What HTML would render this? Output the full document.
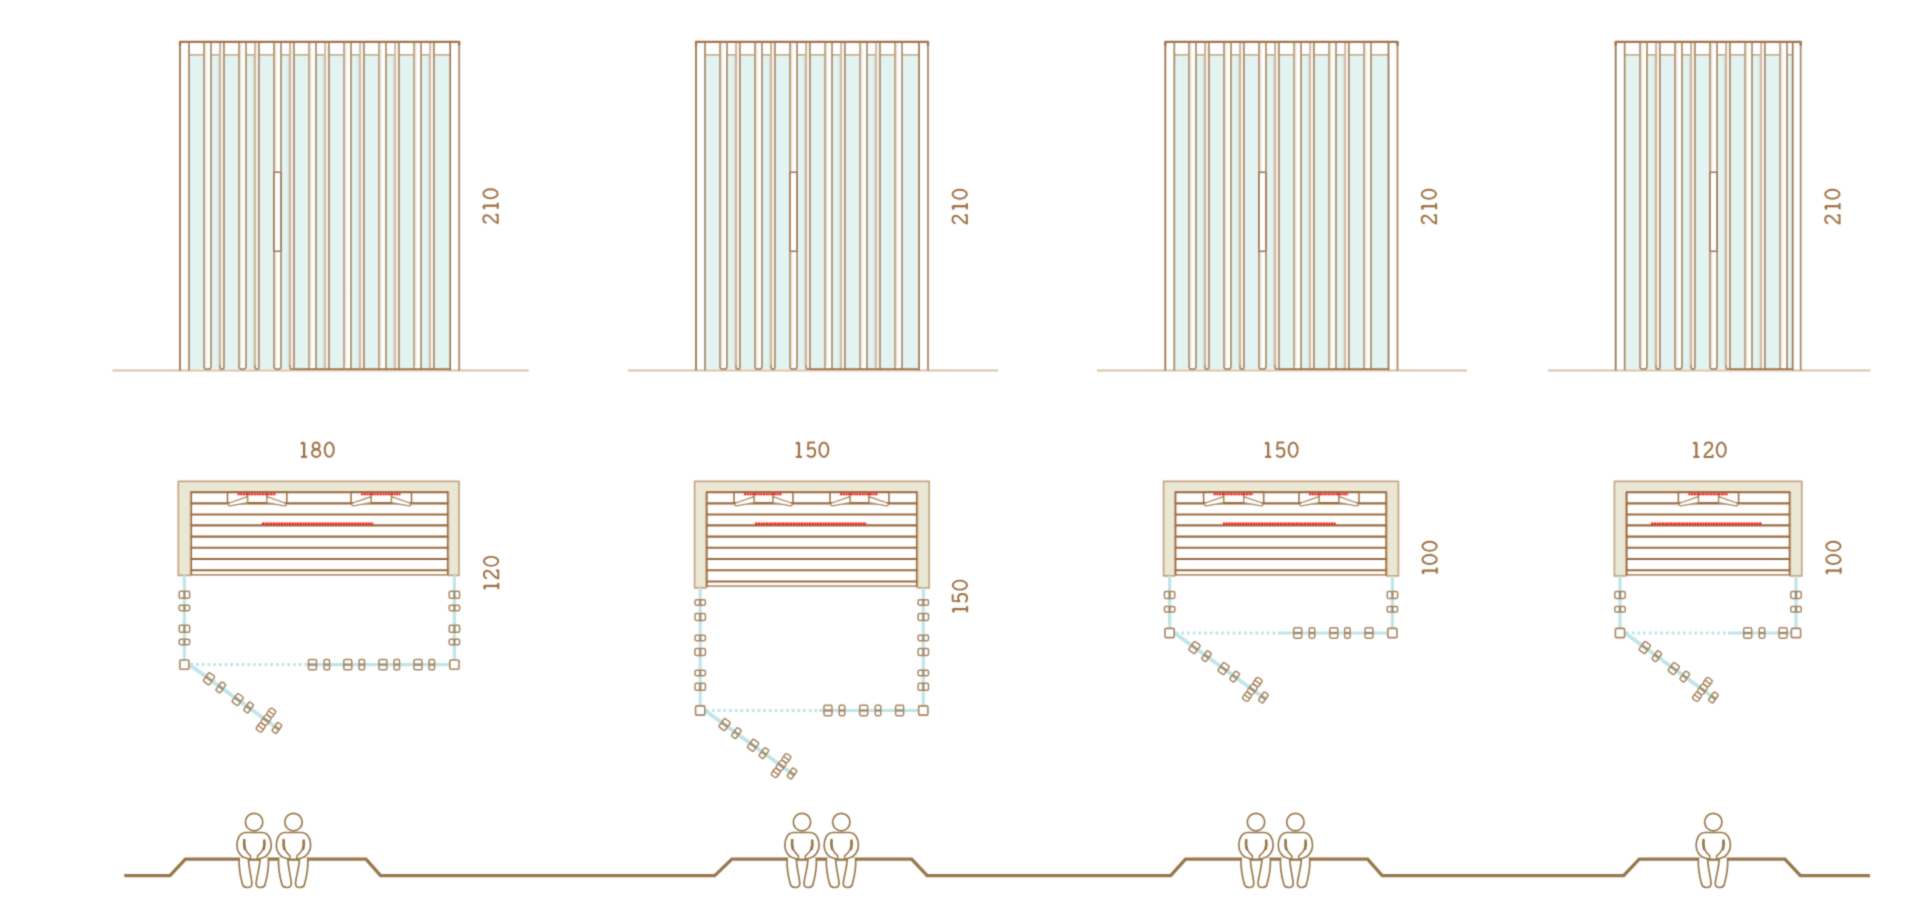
<!DOCTYPE html>
<html><head><meta charset="utf-8"><title>Sauna</title>
<style>html,body{margin:0;padding:0;background:#ffffff;overflow:hidden;width:1920px;height:918px}svg{display:block}</style>
</head><body>
<svg width="1920" height="918" viewBox="0 0 1920 918"><defs><linearGradient id="gL" x1="0" x2="1" y1="0" y2="0"><stop offset="0" stop-color="#c8ad8a" stop-opacity="0.45"/><stop offset="1" stop-color="#ffffff" stop-opacity="0"/></linearGradient><linearGradient id="gR" x1="0" x2="1" y1="0" y2="0"><stop offset="0" stop-color="#b9ad95" stop-opacity="0"/><stop offset="1" stop-color="#b9ad95" stop-opacity="0.35"/></linearGradient><filter id="bl" x="0" y="0" width="1920" height="918" filterUnits="userSpaceOnUse" color-interpolation-filters="sRGB"><feConvolveMatrix order="3" kernelMatrix="1 4 1 4 16 4 1 4 1" divisor="36" edgeMode="duplicate"/></filter></defs><rect width="1920" height="918" fill="#fff"/><g filter="url(#bl)"><rect x="189" y="54.8" width="261.2" height="314.4" fill="#e3f3f2" stroke="none" stroke-width="1.6" />
<line x1="189" y1="54.8" x2="450.2" y2="54.8" stroke="#c9b193" stroke-width="1.8" />
<rect x="204" y="41.8" width="7" height="327.4" fill="#ffffff" stroke="none" stroke-width="1.6" />
<rect x="204.8" y="42.8" width="3.6" height="323.4" fill="url(#gL)" stroke="none" stroke-width="1.6" />
<rect x="220" y="41.8" width="4" height="327.4" fill="#f6f1ec" stroke="none" stroke-width="1.6" />
<rect x="216.8" y="55.8" width="2.6" height="311.4" fill="url(#gR)" stroke="none" stroke-width="1.6" />
<rect x="239" y="41.8" width="7" height="327.4" fill="#ffffff" stroke="none" stroke-width="1.6" />
<rect x="239.8" y="42.8" width="3.6" height="323.4" fill="url(#gL)" stroke="none" stroke-width="1.6" />
<rect x="255" y="41.8" width="4" height="327.4" fill="#f6f1ec" stroke="none" stroke-width="1.6" />
<rect x="251.8" y="55.8" width="2.6" height="311.4" fill="url(#gR)" stroke="none" stroke-width="1.6" />
<rect x="274" y="41.8" width="7" height="327.4" fill="#ffffff" stroke="none" stroke-width="1.6" />
<rect x="274.8" y="42.8" width="3.6" height="323.4" fill="url(#gL)" stroke="none" stroke-width="1.6" />
<rect x="290" y="41.8" width="4" height="327.4" fill="#f6f1ec" stroke="none" stroke-width="1.6" />
<rect x="286.8" y="55.8" width="2.6" height="311.4" fill="url(#gR)" stroke="none" stroke-width="1.6" />
<rect x="309" y="41.8" width="7" height="327.4" fill="#ffffff" stroke="none" stroke-width="1.6" />
<rect x="309.8" y="42.8" width="3.6" height="323.4" fill="url(#gL)" stroke="none" stroke-width="1.6" />
<rect x="325" y="41.8" width="4" height="327.4" fill="#f6f1ec" stroke="none" stroke-width="1.6" />
<rect x="321.8" y="55.8" width="2.6" height="311.4" fill="url(#gR)" stroke="none" stroke-width="1.6" />
<rect x="344" y="41.8" width="7" height="327.4" fill="#ffffff" stroke="none" stroke-width="1.6" />
<rect x="344.8" y="42.8" width="3.6" height="323.4" fill="url(#gL)" stroke="none" stroke-width="1.6" />
<rect x="360" y="41.8" width="4" height="327.4" fill="#f6f1ec" stroke="none" stroke-width="1.6" />
<rect x="356.8" y="55.8" width="2.6" height="311.4" fill="url(#gR)" stroke="none" stroke-width="1.6" />
<rect x="379" y="41.8" width="7" height="327.4" fill="#ffffff" stroke="none" stroke-width="1.6" />
<rect x="379.8" y="42.8" width="3.6" height="323.4" fill="url(#gL)" stroke="none" stroke-width="1.6" />
<rect x="395" y="41.8" width="4" height="327.4" fill="#f6f1ec" stroke="none" stroke-width="1.6" />
<rect x="391.8" y="55.8" width="2.6" height="311.4" fill="url(#gR)" stroke="none" stroke-width="1.6" />
<rect x="414" y="41.8" width="7" height="327.4" fill="#ffffff" stroke="none" stroke-width="1.6" />
<rect x="414.8" y="42.8" width="3.6" height="323.4" fill="url(#gL)" stroke="none" stroke-width="1.6" />
<rect x="430" y="41.8" width="4" height="327.4" fill="#f6f1ec" stroke="none" stroke-width="1.6" />
<rect x="426.8" y="55.8" width="2.6" height="311.4" fill="url(#gR)" stroke="none" stroke-width="1.6" />
<rect x="180" y="41.8" width="9" height="328.8" fill="#ffffff" stroke="none" stroke-width="1.6" />
<rect x="450.2" y="41.8" width="9" height="328.8" fill="#ffffff" stroke="none" stroke-width="1.6" />
<line x1="112.5" y1="370.6" x2="528.7" y2="370.6" stroke="#d9c3aa" stroke-width="2.0" />
<path d="M204 41.8 V366.7 Q204 369.2 207.5 369.2 Q211 369.2 211 366.7 V41.8" fill="none" stroke="#ab8d69" stroke-width="1.7"/>
<line x1="204" y1="41.8" x2="204" y2="365.2" stroke="#bba283" stroke-width="1.8" />
<path d="M220 41.8 V367.2 Q220 369.2 222 369.2 Q224 369.2 224 367.2 V41.8" fill="none" stroke="#ab8d69" stroke-width="1.7"/>
<line x1="220" y1="41.8" x2="220" y2="365.2" stroke="#d0baa0" stroke-width="1.8" />
<path d="M239 41.8 V366.7 Q239 369.2 242.5 369.2 Q246 369.2 246 366.7 V41.8" fill="none" stroke="#ab8d69" stroke-width="1.7"/>
<line x1="239" y1="41.8" x2="239" y2="365.2" stroke="#bba283" stroke-width="1.8" />
<path d="M255 41.8 V367.2 Q255 369.2 257 369.2 Q259 369.2 259 367.2 V41.8" fill="none" stroke="#ab8d69" stroke-width="1.7"/>
<line x1="255" y1="41.8" x2="255" y2="365.2" stroke="#d0baa0" stroke-width="1.8" />
<path d="M274 41.8 V366.7 Q274 369.2 277.5 369.2 Q281 369.2 281 366.7 V41.8" fill="none" stroke="#ab8d69" stroke-width="1.7"/>
<line x1="274" y1="41.8" x2="274" y2="365.2" stroke="#bba283" stroke-width="1.8" />
<path d="M290 41.8 V367.2 Q290 369.2 292 369.2 Q294 369.2 294 367.2 V41.8" fill="none" stroke="#ab8d69" stroke-width="1.7"/>
<line x1="290" y1="41.8" x2="290" y2="365.2" stroke="#d0baa0" stroke-width="1.8" />
<line x1="309" y1="41.8" x2="309" y2="369.2" stroke="#bba283" stroke-width="1.8" />
<line x1="316" y1="41.8" x2="316" y2="369.2" stroke="#ab8d69" stroke-width="1.7" />
<line x1="325" y1="41.8" x2="325" y2="369.2" stroke="#d0baa0" stroke-width="1.8" />
<line x1="329" y1="41.8" x2="329" y2="369.2" stroke="#ab8d69" stroke-width="1.7" />
<line x1="344" y1="41.8" x2="344" y2="369.2" stroke="#bba283" stroke-width="1.8" />
<line x1="351" y1="41.8" x2="351" y2="369.2" stroke="#ab8d69" stroke-width="1.7" />
<line x1="360" y1="41.8" x2="360" y2="369.2" stroke="#d0baa0" stroke-width="1.8" />
<line x1="364" y1="41.8" x2="364" y2="369.2" stroke="#ab8d69" stroke-width="1.7" />
<line x1="379" y1="41.8" x2="379" y2="369.2" stroke="#bba283" stroke-width="1.8" />
<line x1="386" y1="41.8" x2="386" y2="369.2" stroke="#ab8d69" stroke-width="1.7" />
<line x1="395" y1="41.8" x2="395" y2="369.2" stroke="#d0baa0" stroke-width="1.8" />
<line x1="399" y1="41.8" x2="399" y2="369.2" stroke="#ab8d69" stroke-width="1.7" />
<line x1="414" y1="41.8" x2="414" y2="369.2" stroke="#bba283" stroke-width="1.8" />
<line x1="421" y1="41.8" x2="421" y2="369.2" stroke="#ab8d69" stroke-width="1.7" />
<line x1="430" y1="41.8" x2="430" y2="369.2" stroke="#d0baa0" stroke-width="1.8" />
<line x1="434" y1="41.8" x2="434" y2="369.2" stroke="#ab8d69" stroke-width="1.7" />
<line x1="180" y1="41.8" x2="180" y2="370.6" stroke="#9f7650" stroke-width="1.8" />
<line x1="189" y1="41.8" x2="189" y2="370.6" stroke="#ab8d69" stroke-width="1.8" />
<line x1="450.2" y1="41.8" x2="450.2" y2="370.6" stroke="#9f7650" stroke-width="1.7" />
<line x1="459.2" y1="41.8" x2="459.2" y2="370.6" stroke="#ab8d69" stroke-width="1.8" />
<line x1="294" y1="369.2" x2="450.2" y2="369.2" stroke="#9f7650" stroke-width="1.8" />
<path d="M180 45.8 V41.8 H459.2 V45.8" fill="none" stroke="#9f7650" stroke-width="2.3" stroke-linejoin="round"/>
<rect x="274" y="172.3" width="7" height="79" fill="#ffffff" stroke="#9f7650" stroke-width="1.6" rx="0.8"/>
<rect x="705" y="54.8" width="214" height="314.4" fill="#e3f3f2" stroke="none" stroke-width="1.6" />
<line x1="705" y1="54.8" x2="919" y2="54.8" stroke="#c9b193" stroke-width="1.8" />
<rect x="720" y="41.8" width="7" height="327.4" fill="#ffffff" stroke="none" stroke-width="1.6" />
<rect x="720.8" y="42.8" width="3.6" height="323.4" fill="url(#gL)" stroke="none" stroke-width="1.6" />
<rect x="736" y="41.8" width="4" height="327.4" fill="#f6f1ec" stroke="none" stroke-width="1.6" />
<rect x="732.8" y="55.8" width="2.6" height="311.4" fill="url(#gR)" stroke="none" stroke-width="1.6" />
<rect x="755" y="41.8" width="7" height="327.4" fill="#ffffff" stroke="none" stroke-width="1.6" />
<rect x="755.8" y="42.8" width="3.6" height="323.4" fill="url(#gL)" stroke="none" stroke-width="1.6" />
<rect x="771" y="41.8" width="4" height="327.4" fill="#f6f1ec" stroke="none" stroke-width="1.6" />
<rect x="767.8" y="55.8" width="2.6" height="311.4" fill="url(#gR)" stroke="none" stroke-width="1.6" />
<rect x="790" y="41.8" width="7" height="327.4" fill="#ffffff" stroke="none" stroke-width="1.6" />
<rect x="790.8" y="42.8" width="3.6" height="323.4" fill="url(#gL)" stroke="none" stroke-width="1.6" />
<rect x="806" y="41.8" width="4" height="327.4" fill="#f6f1ec" stroke="none" stroke-width="1.6" />
<rect x="802.8" y="55.8" width="2.6" height="311.4" fill="url(#gR)" stroke="none" stroke-width="1.6" />
<rect x="825" y="41.8" width="7" height="327.4" fill="#ffffff" stroke="none" stroke-width="1.6" />
<rect x="825.8" y="42.8" width="3.6" height="323.4" fill="url(#gL)" stroke="none" stroke-width="1.6" />
<rect x="841" y="41.8" width="4" height="327.4" fill="#f6f1ec" stroke="none" stroke-width="1.6" />
<rect x="837.8" y="55.8" width="2.6" height="311.4" fill="url(#gR)" stroke="none" stroke-width="1.6" />
<rect x="860" y="41.8" width="7" height="327.4" fill="#ffffff" stroke="none" stroke-width="1.6" />
<rect x="860.8" y="42.8" width="3.6" height="323.4" fill="url(#gL)" stroke="none" stroke-width="1.6" />
<rect x="876" y="41.8" width="4" height="327.4" fill="#f6f1ec" stroke="none" stroke-width="1.6" />
<rect x="872.8" y="55.8" width="2.6" height="311.4" fill="url(#gR)" stroke="none" stroke-width="1.6" />
<rect x="895" y="41.8" width="7" height="327.4" fill="#ffffff" stroke="none" stroke-width="1.6" />
<rect x="895.8" y="42.8" width="3.6" height="323.4" fill="url(#gL)" stroke="none" stroke-width="1.6" />
<rect x="696" y="41.8" width="9" height="328.8" fill="#ffffff" stroke="none" stroke-width="1.6" />
<rect x="919" y="41.8" width="9" height="328.8" fill="#ffffff" stroke="none" stroke-width="1.6" />
<line x1="628" y1="370.6" x2="998" y2="370.6" stroke="#d9c3aa" stroke-width="2.0" />
<path d="M720 41.8 V366.7 Q720 369.2 723.5 369.2 Q727 369.2 727 366.7 V41.8" fill="none" stroke="#ab8d69" stroke-width="1.7"/>
<line x1="720" y1="41.8" x2="720" y2="365.2" stroke="#bba283" stroke-width="1.8" />
<path d="M736 41.8 V367.2 Q736 369.2 738 369.2 Q740 369.2 740 367.2 V41.8" fill="none" stroke="#ab8d69" stroke-width="1.7"/>
<line x1="736" y1="41.8" x2="736" y2="365.2" stroke="#d0baa0" stroke-width="1.8" />
<path d="M755 41.8 V366.7 Q755 369.2 758.5 369.2 Q762 369.2 762 366.7 V41.8" fill="none" stroke="#ab8d69" stroke-width="1.7"/>
<line x1="755" y1="41.8" x2="755" y2="365.2" stroke="#bba283" stroke-width="1.8" />
<path d="M771 41.8 V367.2 Q771 369.2 773 369.2 Q775 369.2 775 367.2 V41.8" fill="none" stroke="#ab8d69" stroke-width="1.7"/>
<line x1="771" y1="41.8" x2="771" y2="365.2" stroke="#d0baa0" stroke-width="1.8" />
<path d="M790 41.8 V366.7 Q790 369.2 793.5 369.2 Q797 369.2 797 366.7 V41.8" fill="none" stroke="#ab8d69" stroke-width="1.7"/>
<line x1="790" y1="41.8" x2="790" y2="365.2" stroke="#bba283" stroke-width="1.8" />
<path d="M806 41.8 V367.2 Q806 369.2 808 369.2 Q810 369.2 810 367.2 V41.8" fill="none" stroke="#ab8d69" stroke-width="1.7"/>
<line x1="806" y1="41.8" x2="806" y2="365.2" stroke="#d0baa0" stroke-width="1.8" />
<line x1="825" y1="41.8" x2="825" y2="369.2" stroke="#bba283" stroke-width="1.8" />
<line x1="832" y1="41.8" x2="832" y2="369.2" stroke="#ab8d69" stroke-width="1.7" />
<line x1="841" y1="41.8" x2="841" y2="369.2" stroke="#d0baa0" stroke-width="1.8" />
<line x1="845" y1="41.8" x2="845" y2="369.2" stroke="#ab8d69" stroke-width="1.7" />
<line x1="860" y1="41.8" x2="860" y2="369.2" stroke="#bba283" stroke-width="1.8" />
<line x1="867" y1="41.8" x2="867" y2="369.2" stroke="#ab8d69" stroke-width="1.7" />
<line x1="876" y1="41.8" x2="876" y2="369.2" stroke="#d0baa0" stroke-width="1.8" />
<line x1="880" y1="41.8" x2="880" y2="369.2" stroke="#ab8d69" stroke-width="1.7" />
<line x1="895" y1="41.8" x2="895" y2="369.2" stroke="#bba283" stroke-width="1.8" />
<line x1="902" y1="41.8" x2="902" y2="369.2" stroke="#ab8d69" stroke-width="1.7" />
<line x1="696" y1="41.8" x2="696" y2="370.6" stroke="#9f7650" stroke-width="1.8" />
<line x1="705" y1="41.8" x2="705" y2="370.6" stroke="#ab8d69" stroke-width="1.8" />
<line x1="919" y1="41.8" x2="919" y2="370.6" stroke="#9f7650" stroke-width="1.7" />
<line x1="928" y1="41.8" x2="928" y2="370.6" stroke="#ab8d69" stroke-width="1.8" />
<line x1="809.5" y1="369.2" x2="919" y2="369.2" stroke="#9f7650" stroke-width="1.8" />
<path d="M696 45.8 V41.8 H928 V45.8" fill="none" stroke="#9f7650" stroke-width="2.3" stroke-linejoin="round"/>
<rect x="790" y="172.3" width="7" height="79" fill="#ffffff" stroke="#9f7650" stroke-width="1.6" rx="0.8"/>
<rect x="1174.3" y="54.8" width="214.20000000000005" height="314.4" fill="#e3f3f2" stroke="none" stroke-width="1.6" />
<line x1="1174.3" y1="54.8" x2="1388.5" y2="54.8" stroke="#c9b193" stroke-width="1.8" />
<rect x="1189" y="41.8" width="7" height="327.4" fill="#ffffff" stroke="none" stroke-width="1.6" />
<rect x="1189.8" y="42.8" width="3.6" height="323.4" fill="url(#gL)" stroke="none" stroke-width="1.6" />
<rect x="1205" y="41.8" width="4" height="327.4" fill="#f6f1ec" stroke="none" stroke-width="1.6" />
<rect x="1201.8" y="55.8" width="2.6" height="311.4" fill="url(#gR)" stroke="none" stroke-width="1.6" />
<rect x="1224" y="41.8" width="7" height="327.4" fill="#ffffff" stroke="none" stroke-width="1.6" />
<rect x="1224.8" y="42.8" width="3.6" height="323.4" fill="url(#gL)" stroke="none" stroke-width="1.6" />
<rect x="1240" y="41.8" width="4" height="327.4" fill="#f6f1ec" stroke="none" stroke-width="1.6" />
<rect x="1236.8" y="55.8" width="2.6" height="311.4" fill="url(#gR)" stroke="none" stroke-width="1.6" />
<rect x="1259" y="41.8" width="7" height="327.4" fill="#ffffff" stroke="none" stroke-width="1.6" />
<rect x="1259.8" y="42.8" width="3.6" height="323.4" fill="url(#gL)" stroke="none" stroke-width="1.6" />
<rect x="1275" y="41.8" width="4" height="327.4" fill="#f6f1ec" stroke="none" stroke-width="1.6" />
<rect x="1271.8" y="55.8" width="2.6" height="311.4" fill="url(#gR)" stroke="none" stroke-width="1.6" />
<rect x="1294" y="41.8" width="7" height="327.4" fill="#ffffff" stroke="none" stroke-width="1.6" />
<rect x="1294.8" y="42.8" width="3.6" height="323.4" fill="url(#gL)" stroke="none" stroke-width="1.6" />
<rect x="1310" y="41.8" width="4" height="327.4" fill="#f6f1ec" stroke="none" stroke-width="1.6" />
<rect x="1306.8" y="55.8" width="2.6" height="311.4" fill="url(#gR)" stroke="none" stroke-width="1.6" />
<rect x="1329" y="41.8" width="7" height="327.4" fill="#ffffff" stroke="none" stroke-width="1.6" />
<rect x="1329.8" y="42.8" width="3.6" height="323.4" fill="url(#gL)" stroke="none" stroke-width="1.6" />
<rect x="1345" y="41.8" width="4" height="327.4" fill="#f6f1ec" stroke="none" stroke-width="1.6" />
<rect x="1341.8" y="55.8" width="2.6" height="311.4" fill="url(#gR)" stroke="none" stroke-width="1.6" />
<rect x="1364" y="41.8" width="7" height="327.4" fill="#ffffff" stroke="none" stroke-width="1.6" />
<rect x="1364.8" y="42.8" width="3.6" height="323.4" fill="url(#gL)" stroke="none" stroke-width="1.6" />
<rect x="1165.3" y="41.8" width="9" height="328.8" fill="#ffffff" stroke="none" stroke-width="1.6" />
<rect x="1388.5" y="41.8" width="9" height="328.8" fill="#ffffff" stroke="none" stroke-width="1.6" />
<line x1="1097" y1="370.6" x2="1467" y2="370.6" stroke="#d9c3aa" stroke-width="2.0" />
<path d="M1189 41.8 V366.7 Q1189 369.2 1192.5 369.2 Q1196 369.2 1196 366.7 V41.8" fill="none" stroke="#ab8d69" stroke-width="1.7"/>
<line x1="1189" y1="41.8" x2="1189" y2="365.2" stroke="#bba283" stroke-width="1.8" />
<path d="M1205 41.8 V367.2 Q1205 369.2 1207 369.2 Q1209 369.2 1209 367.2 V41.8" fill="none" stroke="#ab8d69" stroke-width="1.7"/>
<line x1="1205" y1="41.8" x2="1205" y2="365.2" stroke="#d0baa0" stroke-width="1.8" />
<path d="M1224 41.8 V366.7 Q1224 369.2 1227.5 369.2 Q1231 369.2 1231 366.7 V41.8" fill="none" stroke="#ab8d69" stroke-width="1.7"/>
<line x1="1224" y1="41.8" x2="1224" y2="365.2" stroke="#bba283" stroke-width="1.8" />
<path d="M1240 41.8 V367.2 Q1240 369.2 1242 369.2 Q1244 369.2 1244 367.2 V41.8" fill="none" stroke="#ab8d69" stroke-width="1.7"/>
<line x1="1240" y1="41.8" x2="1240" y2="365.2" stroke="#d0baa0" stroke-width="1.8" />
<path d="M1259 41.8 V366.7 Q1259 369.2 1262.5 369.2 Q1266 369.2 1266 366.7 V41.8" fill="none" stroke="#ab8d69" stroke-width="1.7"/>
<line x1="1259" y1="41.8" x2="1259" y2="365.2" stroke="#bba283" stroke-width="1.8" />
<path d="M1275 41.8 V367.2 Q1275 369.2 1277 369.2 Q1279 369.2 1279 367.2 V41.8" fill="none" stroke="#ab8d69" stroke-width="1.7"/>
<line x1="1275" y1="41.8" x2="1275" y2="365.2" stroke="#d0baa0" stroke-width="1.8" />
<line x1="1294" y1="41.8" x2="1294" y2="369.2" stroke="#bba283" stroke-width="1.8" />
<line x1="1301" y1="41.8" x2="1301" y2="369.2" stroke="#ab8d69" stroke-width="1.7" />
<line x1="1310" y1="41.8" x2="1310" y2="369.2" stroke="#d0baa0" stroke-width="1.8" />
<line x1="1314" y1="41.8" x2="1314" y2="369.2" stroke="#ab8d69" stroke-width="1.7" />
<line x1="1329" y1="41.8" x2="1329" y2="369.2" stroke="#bba283" stroke-width="1.8" />
<line x1="1336" y1="41.8" x2="1336" y2="369.2" stroke="#ab8d69" stroke-width="1.7" />
<line x1="1345" y1="41.8" x2="1345" y2="369.2" stroke="#d0baa0" stroke-width="1.8" />
<line x1="1349" y1="41.8" x2="1349" y2="369.2" stroke="#ab8d69" stroke-width="1.7" />
<line x1="1364" y1="41.8" x2="1364" y2="369.2" stroke="#bba283" stroke-width="1.8" />
<line x1="1371" y1="41.8" x2="1371" y2="369.2" stroke="#ab8d69" stroke-width="1.7" />
<line x1="1165.3" y1="41.8" x2="1165.3" y2="370.6" stroke="#9f7650" stroke-width="1.8" />
<line x1="1174.3" y1="41.8" x2="1174.3" y2="370.6" stroke="#ab8d69" stroke-width="1.8" />
<line x1="1388.5" y1="41.8" x2="1388.5" y2="370.6" stroke="#9f7650" stroke-width="1.7" />
<line x1="1397.5" y1="41.8" x2="1397.5" y2="370.6" stroke="#ab8d69" stroke-width="1.8" />
<line x1="1279" y1="369.2" x2="1388.5" y2="369.2" stroke="#9f7650" stroke-width="1.8" />
<path d="M1165.3 45.8 V41.8 H1397.5 V45.8" fill="none" stroke="#9f7650" stroke-width="2.3" stroke-linejoin="round"/>
<rect x="1259" y="172.3" width="7" height="79" fill="#ffffff" stroke="#9f7650" stroke-width="1.6" rx="0.8"/>
<rect x="1624.7" y="54.8" width="168.0" height="314.4" fill="#e3f3f2" stroke="none" stroke-width="1.6" />
<line x1="1624.7" y1="54.8" x2="1792.7" y2="54.8" stroke="#c9b193" stroke-width="1.8" />
<rect x="1640" y="41.8" width="7" height="327.4" fill="#ffffff" stroke="none" stroke-width="1.6" />
<rect x="1640.8" y="42.8" width="3.6" height="323.4" fill="url(#gL)" stroke="none" stroke-width="1.6" />
<rect x="1656" y="41.8" width="4" height="327.4" fill="#f6f1ec" stroke="none" stroke-width="1.6" />
<rect x="1652.8" y="55.8" width="2.6" height="311.4" fill="url(#gR)" stroke="none" stroke-width="1.6" />
<rect x="1675" y="41.8" width="7" height="327.4" fill="#ffffff" stroke="none" stroke-width="1.6" />
<rect x="1675.8" y="42.8" width="3.6" height="323.4" fill="url(#gL)" stroke="none" stroke-width="1.6" />
<rect x="1691" y="41.8" width="4" height="327.4" fill="#f6f1ec" stroke="none" stroke-width="1.6" />
<rect x="1687.8" y="55.8" width="2.6" height="311.4" fill="url(#gR)" stroke="none" stroke-width="1.6" />
<rect x="1710" y="41.8" width="7" height="327.4" fill="#ffffff" stroke="none" stroke-width="1.6" />
<rect x="1710.8" y="42.8" width="3.6" height="323.4" fill="url(#gL)" stroke="none" stroke-width="1.6" />
<rect x="1726" y="41.8" width="4" height="327.4" fill="#f6f1ec" stroke="none" stroke-width="1.6" />
<rect x="1722.8" y="55.8" width="2.6" height="311.4" fill="url(#gR)" stroke="none" stroke-width="1.6" />
<rect x="1745" y="41.8" width="7" height="327.4" fill="#ffffff" stroke="none" stroke-width="1.6" />
<rect x="1745.8" y="42.8" width="3.6" height="323.4" fill="url(#gL)" stroke="none" stroke-width="1.6" />
<rect x="1761" y="41.8" width="4" height="327.4" fill="#f6f1ec" stroke="none" stroke-width="1.6" />
<rect x="1757.8" y="55.8" width="2.6" height="311.4" fill="url(#gR)" stroke="none" stroke-width="1.6" />
<rect x="1780" y="41.8" width="7" height="327.4" fill="#ffffff" stroke="none" stroke-width="1.6" />
<rect x="1780.8" y="42.8" width="3.6" height="323.4" fill="url(#gL)" stroke="none" stroke-width="1.6" />
<rect x="1615.7" y="41.8" width="9" height="328.8" fill="#ffffff" stroke="none" stroke-width="1.6" />
<rect x="1792.7" y="41.8" width="8" height="328.8" fill="#ffffff" stroke="none" stroke-width="1.6" />
<line x1="1548" y1="370.6" x2="1870.5" y2="370.6" stroke="#d9c3aa" stroke-width="2.0" />
<path d="M1640 41.8 V366.7 Q1640 369.2 1643.5 369.2 Q1647 369.2 1647 366.7 V41.8" fill="none" stroke="#ab8d69" stroke-width="1.7"/>
<line x1="1640" y1="41.8" x2="1640" y2="365.2" stroke="#bba283" stroke-width="1.8" />
<path d="M1656 41.8 V367.2 Q1656 369.2 1658 369.2 Q1660 369.2 1660 367.2 V41.8" fill="none" stroke="#ab8d69" stroke-width="1.7"/>
<line x1="1656" y1="41.8" x2="1656" y2="365.2" stroke="#d0baa0" stroke-width="1.8" />
<path d="M1675 41.8 V366.7 Q1675 369.2 1678.5 369.2 Q1682 369.2 1682 366.7 V41.8" fill="none" stroke="#ab8d69" stroke-width="1.7"/>
<line x1="1675" y1="41.8" x2="1675" y2="365.2" stroke="#bba283" stroke-width="1.8" />
<path d="M1691 41.8 V367.2 Q1691 369.2 1693 369.2 Q1695 369.2 1695 367.2 V41.8" fill="none" stroke="#ab8d69" stroke-width="1.7"/>
<line x1="1691" y1="41.8" x2="1691" y2="365.2" stroke="#d0baa0" stroke-width="1.8" />
<path d="M1710 41.8 V366.7 Q1710 369.2 1713.5 369.2 Q1717 369.2 1717 366.7 V41.8" fill="none" stroke="#ab8d69" stroke-width="1.7"/>
<line x1="1710" y1="41.8" x2="1710" y2="365.2" stroke="#bba283" stroke-width="1.8" />
<path d="M1726 41.8 V367.2 Q1726 369.2 1728 369.2 Q1730 369.2 1730 367.2 V41.8" fill="none" stroke="#ab8d69" stroke-width="1.7"/>
<line x1="1726" y1="41.8" x2="1726" y2="365.2" stroke="#d0baa0" stroke-width="1.8" />
<line x1="1745" y1="41.8" x2="1745" y2="369.2" stroke="#bba283" stroke-width="1.8" />
<line x1="1752" y1="41.8" x2="1752" y2="369.2" stroke="#ab8d69" stroke-width="1.7" />
<line x1="1761" y1="41.8" x2="1761" y2="369.2" stroke="#d0baa0" stroke-width="1.8" />
<line x1="1765" y1="41.8" x2="1765" y2="369.2" stroke="#ab8d69" stroke-width="1.7" />
<line x1="1780" y1="41.8" x2="1780" y2="369.2" stroke="#bba283" stroke-width="1.8" />
<line x1="1787" y1="41.8" x2="1787" y2="369.2" stroke="#ab8d69" stroke-width="1.7" />
<line x1="1615.7" y1="41.8" x2="1615.7" y2="370.6" stroke="#9f7650" stroke-width="1.8" />
<line x1="1624.7" y1="41.8" x2="1624.7" y2="370.6" stroke="#ab8d69" stroke-width="1.8" />
<line x1="1792.7" y1="41.8" x2="1792.7" y2="370.6" stroke="#9f7650" stroke-width="1.7" />
<line x1="1800.7" y1="41.8" x2="1800.7" y2="370.6" stroke="#ab8d69" stroke-width="1.8" />
<line x1="1729.6" y1="369.2" x2="1792.7" y2="369.2" stroke="#9f7650" stroke-width="1.8" />
<path d="M1615.7 45.8 V41.8 H1800.7 V45.8" fill="none" stroke="#9f7650" stroke-width="2.3" stroke-linejoin="round"/>
<rect x="1710" y="172.3" width="7" height="79" fill="#ffffff" stroke="#9f7650" stroke-width="1.6" rx="0.8"/>
<path d="M178.3 481.3 H459.0 V575.4 H448.5 V492.3 H190.5 V575.4 H178.3 Z" fill="#ebe7d5" stroke="#c4a683" stroke-width="1.7" stroke-linejoin="round"/>
<rect x="190.5" y="492.3" width="258.0" height="83.09999999999997" fill="#ffffff" stroke="none" stroke-width="1.6" />
<line x1="190.5" y1="492.3" x2="448.5" y2="492.3" stroke="#9c6d40" stroke-width="2.1" />
<line x1="190.5" y1="503.4" x2="448.5" y2="503.4" stroke="#9c6d40" stroke-width="2.1" />
<line x1="190.5" y1="514.5" x2="448.5" y2="514.5" stroke="#9c6d40" stroke-width="2.1" />
<line x1="190.5" y1="525.4" x2="448.5" y2="525.4" stroke="#9c6d40" stroke-width="2.1" />
<line x1="190.5" y1="536.6" x2="448.5" y2="536.6" stroke="#9c6d40" stroke-width="2.1" />
<line x1="190.5" y1="547.7" x2="448.5" y2="547.7" stroke="#9c6d40" stroke-width="2.1" />
<line x1="190.5" y1="559.0" x2="448.5" y2="559.0" stroke="#9c6d40" stroke-width="2.1" />
<line x1="190.5" y1="570.2" x2="448.5" y2="570.2" stroke="#9c6d40" stroke-width="2.1" />
<line x1="190.5" y1="574.9" x2="448.5" y2="574.9" stroke="#b89574" stroke-width="1.6" />
<line x1="191.3" y1="492.3" x2="191.3" y2="574.9" stroke="#9c6d40" stroke-width="1.6" />
<line x1="447.7" y1="492.3" x2="447.7" y2="574.9" stroke="#9c6d40" stroke-width="1.6" />
<rect x="227.5" y="492.3" width="59.30000000000001" height="10.600000000000023" fill="#ffffff" stroke="none" stroke-width="1.6" />
<line x1="227.5" y1="492.3" x2="227.5" y2="502.90000000000003" stroke="#9c6d40" stroke-width="1.5" />
<line x1="286.8" y1="492.3" x2="286.8" y2="502.90000000000003" stroke="#9c6d40" stroke-width="1.5" />
<line x1="247.5" y1="492.3" x2="247.5" y2="501.90000000000003" stroke="#9c6d40" stroke-width="1.4" />
<line x1="266.8" y1="492.3" x2="266.8" y2="501.90000000000003" stroke="#9c6d40" stroke-width="1.4" />
<line x1="227.5" y1="492.3" x2="286.8" y2="492.3" stroke="#9c6d40" stroke-width="1.9" />
<line x1="227.5" y1="502.90000000000003" x2="286.8" y2="502.90000000000003" stroke="#9c6d40" stroke-width="1.9" />
<path d="M247.5 496.6 L229.3 503.00000000000006 Q226.9 505.70000000000005 230.1 505.8 L247.5 502.70000000000005 Z" fill="#ffffff" stroke="#ab8d69" stroke-width="1.3"/>
<path d="M266.8 496.6 L285.0 503.00000000000006 Q287.40000000000003 505.70000000000005 284.2 505.8 L266.8 502.70000000000005 Z" fill="#ffffff" stroke="#ab8d69" stroke-width="1.3"/>
<line x1="237.5" y1="494.3" x2="275.8" y2="494.3" stroke="#fa1414" stroke-width="2.1" stroke-dasharray="2.2 0.5"/>
<rect x="351" y="492.3" width="60.5" height="10.600000000000023" fill="#ffffff" stroke="none" stroke-width="1.6" />
<line x1="351" y1="492.3" x2="351" y2="502.90000000000003" stroke="#9c6d40" stroke-width="1.5" />
<line x1="411.5" y1="492.3" x2="411.5" y2="502.90000000000003" stroke="#9c6d40" stroke-width="1.5" />
<line x1="371" y1="492.3" x2="371" y2="501.90000000000003" stroke="#9c6d40" stroke-width="1.4" />
<line x1="391.5" y1="492.3" x2="391.5" y2="501.90000000000003" stroke="#9c6d40" stroke-width="1.4" />
<line x1="351" y1="492.3" x2="411.5" y2="492.3" stroke="#9c6d40" stroke-width="1.9" />
<line x1="351" y1="502.90000000000003" x2="411.5" y2="502.90000000000003" stroke="#9c6d40" stroke-width="1.9" />
<path d="M371 496.6 L352.8 503.00000000000006 Q350.4 505.70000000000005 353.6 505.8 L371 502.70000000000005 Z" fill="#ffffff" stroke="#ab8d69" stroke-width="1.3"/>
<path d="M391.5 496.6 L409.7 503.00000000000006 Q412.1 505.70000000000005 408.9 505.8 L391.5 502.70000000000005 Z" fill="#ffffff" stroke="#ab8d69" stroke-width="1.3"/>
<line x1="361" y1="494.3" x2="400.5" y2="494.3" stroke="#fa1414" stroke-width="2.1" stroke-dasharray="2.2 0.5"/>
<line x1="262" y1="523.7" x2="373.5" y2="523.7" stroke="#fa1414" stroke-width="2.3" stroke-dasharray="2.2 0.5"/>
<line x1="184.4" y1="575.4" x2="184.4" y2="664.6" stroke="#c0e5e9" stroke-width="3.2" />
<line x1="454.4" y1="575.4" x2="454.4" y2="664.6" stroke="#c0e5e9" stroke-width="3.2" />
<line x1="190.4" y1="664.6" x2="306" y2="664.6" stroke="#c0e5e9" stroke-width="3.0" stroke-dasharray="2.8 2.9"/>
<line x1="306" y1="664.6" x2="454.4" y2="664.6" stroke="#c0e5e9" stroke-width="3.2" />
<line x1="189.4" y1="664.6" x2="279" y2="729.5" stroke="#c0e5e9" stroke-width="3.8" />
<rect x="179.20000000000002" y="591.3" width="10.4" height="7" fill="none" stroke="#a98662" stroke-width="1.5" rx="1.4"/>
<line x1="184.4" y1="591.3" x2="184.4" y2="598.3" stroke="#a98662" stroke-width="2.0" />
<rect x="449.2" y="591.3" width="10.4" height="7" fill="none" stroke="#a98662" stroke-width="1.5" rx="1.4"/>
<line x1="454.4" y1="591.3" x2="454.4" y2="598.3" stroke="#a98662" stroke-width="2.0" />
<rect x="179.20000000000002" y="605.15" width="10.4" height="5.5" fill="none" stroke="#a98662" stroke-width="1.5" rx="1.4"/>
<line x1="184.4" y1="605.15" x2="184.4" y2="610.65" stroke="#a98662" stroke-width="2.0" />
<rect x="449.2" y="605.15" width="10.4" height="5.5" fill="none" stroke="#a98662" stroke-width="1.5" rx="1.4"/>
<line x1="454.4" y1="605.15" x2="454.4" y2="610.65" stroke="#a98662" stroke-width="2.0" />
<rect x="179.20000000000002" y="625.3" width="10.4" height="7" fill="none" stroke="#a98662" stroke-width="1.5" rx="1.4"/>
<line x1="184.4" y1="625.3" x2="184.4" y2="632.3" stroke="#a98662" stroke-width="2.0" />
<rect x="449.2" y="625.3" width="10.4" height="7" fill="none" stroke="#a98662" stroke-width="1.5" rx="1.4"/>
<line x1="454.4" y1="625.3" x2="454.4" y2="632.3" stroke="#a98662" stroke-width="2.0" />
<rect x="179.20000000000002" y="639.15" width="10.4" height="5.5" fill="none" stroke="#a98662" stroke-width="1.5" rx="1.4"/>
<line x1="184.4" y1="639.15" x2="184.4" y2="644.65" stroke="#a98662" stroke-width="2.0" />
<rect x="449.2" y="639.15" width="10.4" height="5.5" fill="none" stroke="#a98662" stroke-width="1.5" rx="1.4"/>
<line x1="454.4" y1="639.15" x2="454.4" y2="644.65" stroke="#a98662" stroke-width="2.0" />
<rect x="308.5" y="659.4" width="8.0" height="10.4" fill="none" stroke="#a98662" stroke-width="1.5" rx="1.4"/>
<line x1="308.5" y1="664.6" x2="316.5" y2="664.6" stroke="#a98662" stroke-width="2.0" />
<rect x="324.05" y="659.4" width="5.5" height="10.4" fill="none" stroke="#a98662" stroke-width="1.5" rx="1.4"/>
<line x1="324.05" y1="664.6" x2="329.55" y2="664.6" stroke="#a98662" stroke-width="2.0" />
<rect x="343.8" y="659.4" width="8.0" height="10.4" fill="none" stroke="#a98662" stroke-width="1.5" rx="1.4"/>
<line x1="343.8" y1="664.6" x2="351.8" y2="664.6" stroke="#a98662" stroke-width="2.0" />
<rect x="359.05" y="659.4" width="5.5" height="10.4" fill="none" stroke="#a98662" stroke-width="1.5" rx="1.4"/>
<line x1="359.05" y1="664.6" x2="364.55" y2="664.6" stroke="#a98662" stroke-width="2.0" />
<rect x="378.9" y="659.4" width="8.0" height="10.4" fill="none" stroke="#a98662" stroke-width="1.5" rx="1.4"/>
<line x1="378.9" y1="664.6" x2="386.9" y2="664.6" stroke="#a98662" stroke-width="2.0" />
<rect x="394.05" y="659.4" width="5.5" height="10.4" fill="none" stroke="#a98662" stroke-width="1.5" rx="1.4"/>
<line x1="394.05" y1="664.6" x2="399.55" y2="664.6" stroke="#a98662" stroke-width="2.0" />
<rect x="414.0" y="659.4" width="8.0" height="10.4" fill="none" stroke="#a98662" stroke-width="1.5" rx="1.4"/>
<line x1="414.0" y1="664.6" x2="422.0" y2="664.6" stroke="#a98662" stroke-width="2.0" />
<rect x="429.05" y="659.4" width="5.5" height="10.4" fill="none" stroke="#a98662" stroke-width="1.5" rx="1.4"/>
<line x1="429.05" y1="664.6" x2="434.55" y2="664.6" stroke="#a98662" stroke-width="2.0" />
<g transform="translate(209.0 678.8) rotate(35.9)"><rect x="-3.75" y="-5.2" width="7.5" height="10.4" rx="1.4" fill="none" stroke="#a98662" stroke-width="1.5"/><line x1="-3.75" y1="0" x2="3.75" y2="0" stroke="#a98662" stroke-width="2.0"/></g>
<g transform="translate(220.8 687.4) rotate(35.9)"><rect x="-2.75" y="-5.2" width="5.5" height="10.4" rx="1.4" fill="none" stroke="#a98662" stroke-width="1.5"/><line x1="-2.75" y1="0" x2="2.75" y2="0" stroke="#a98662" stroke-width="2.0"/></g>
<g transform="translate(237.7 699.6) rotate(35.9)"><rect x="-3.75" y="-5.2" width="7.5" height="10.4" rx="1.4" fill="none" stroke="#a98662" stroke-width="1.5"/><line x1="-3.75" y1="0" x2="3.75" y2="0" stroke="#a98662" stroke-width="2.0"/></g>
<g transform="translate(248.6 707.5) rotate(35.9)"><rect x="-2.75" y="-5.2" width="5.5" height="10.4" rx="1.4" fill="none" stroke="#a98662" stroke-width="1.5"/><line x1="-2.75" y1="0" x2="2.75" y2="0" stroke="#a98662" stroke-width="2.0"/></g>
<g transform="translate(276.9 728.0) rotate(35.9)"><rect x="-2.75" y="-5.2" width="5.5" height="10.4" rx="1.4" fill="none" stroke="#a98662" stroke-width="1.5"/><line x1="-2.75" y1="0" x2="2.75" y2="0" stroke="#a98662" stroke-width="2.0"/></g>
<g transform="translate(266.0 720.1) rotate(35.9)" fill="none" stroke="#a98662" stroke-width="1.4"><rect x="-3.4" y="-13.2" width="6.8" height="8.4" rx="2.2"/><rect x="-3.4" y="4.8" width="6.8" height="8.4" rx="2.2"/><rect x="-3.6" y="-5.2" width="7.2" height="10.4" rx="3.2"/><line x1="-3.4" y1="-9" x2="3.4" y2="-9"/><line x1="-3.4" y1="9" x2="3.4" y2="9"/><line x1="-3.6" y1="0" x2="3.6" y2="0" stroke-width="2.2"/></g>
<rect x="179.8" y="660.0" width="9.2" height="9.2" fill="#ffffff" stroke="#a98662" stroke-width="1.6" rx="1.2"/>
<rect x="449.79999999999995" y="660.0" width="9.2" height="9.2" fill="#ffffff" stroke="#a98662" stroke-width="1.6" rx="1.2"/>
<path d="M694.6 481.3 H929.2 V587.8 H917.5 V492.3 H706.1 V587.8 H694.6 Z" fill="#ebe7d5" stroke="#c4a683" stroke-width="1.7" stroke-linejoin="round"/>
<rect x="706.1" y="492.3" width="211.39999999999998" height="95.49999999999994" fill="#ffffff" stroke="none" stroke-width="1.6" />
<line x1="706.1" y1="492.3" x2="917.5" y2="492.3" stroke="#9c6d40" stroke-width="2.1" />
<line x1="706.1" y1="503.4" x2="917.5" y2="503.4" stroke="#9c6d40" stroke-width="2.1" />
<line x1="706.1" y1="514.5" x2="917.5" y2="514.5" stroke="#9c6d40" stroke-width="2.1" />
<line x1="706.1" y1="525.4" x2="917.5" y2="525.4" stroke="#9c6d40" stroke-width="2.1" />
<line x1="706.1" y1="536.6" x2="917.5" y2="536.6" stroke="#9c6d40" stroke-width="2.1" />
<line x1="706.1" y1="547.7" x2="917.5" y2="547.7" stroke="#9c6d40" stroke-width="2.1" />
<line x1="706.1" y1="559.0" x2="917.5" y2="559.0" stroke="#9c6d40" stroke-width="2.1" />
<line x1="706.1" y1="570.2" x2="917.5" y2="570.2" stroke="#9c6d40" stroke-width="2.1" />
<line x1="706.1" y1="581.5" x2="917.5" y2="581.5" stroke="#9c6d40" stroke-width="2.1" />
<line x1="706.1" y1="586.0999999999999" x2="917.5" y2="586.0999999999999" stroke="#b89574" stroke-width="1.6" />
<line x1="706.9" y1="492.3" x2="706.9" y2="587.3" stroke="#9c6d40" stroke-width="1.6" />
<line x1="916.7" y1="492.3" x2="916.7" y2="587.3" stroke="#9c6d40" stroke-width="1.6" />
<rect x="734" y="492.3" width="59" height="10.600000000000023" fill="#ffffff" stroke="none" stroke-width="1.6" />
<line x1="734" y1="492.3" x2="734" y2="502.90000000000003" stroke="#9c6d40" stroke-width="1.5" />
<line x1="793" y1="492.3" x2="793" y2="502.90000000000003" stroke="#9c6d40" stroke-width="1.5" />
<line x1="754" y1="492.3" x2="754" y2="501.90000000000003" stroke="#9c6d40" stroke-width="1.4" />
<line x1="773" y1="492.3" x2="773" y2="501.90000000000003" stroke="#9c6d40" stroke-width="1.4" />
<line x1="734" y1="492.3" x2="793" y2="492.3" stroke="#9c6d40" stroke-width="1.9" />
<line x1="734" y1="502.90000000000003" x2="793" y2="502.90000000000003" stroke="#9c6d40" stroke-width="1.9" />
<path d="M754 496.6 L735.8 503.00000000000006 Q733.4 505.70000000000005 736.6 505.8 L754 502.70000000000005 Z" fill="#ffffff" stroke="#ab8d69" stroke-width="1.3"/>
<path d="M773 496.6 L791.2 503.00000000000006 Q793.6 505.70000000000005 790.4 505.8 L773 502.70000000000005 Z" fill="#ffffff" stroke="#ab8d69" stroke-width="1.3"/>
<line x1="744" y1="494.3" x2="782" y2="494.3" stroke="#fa1414" stroke-width="2.1" stroke-dasharray="2.2 0.5"/>
<rect x="830" y="492.3" width="59" height="10.600000000000023" fill="#ffffff" stroke="none" stroke-width="1.6" />
<line x1="830" y1="492.3" x2="830" y2="502.90000000000003" stroke="#9c6d40" stroke-width="1.5" />
<line x1="889" y1="492.3" x2="889" y2="502.90000000000003" stroke="#9c6d40" stroke-width="1.5" />
<line x1="850" y1="492.3" x2="850" y2="501.90000000000003" stroke="#9c6d40" stroke-width="1.4" />
<line x1="869" y1="492.3" x2="869" y2="501.90000000000003" stroke="#9c6d40" stroke-width="1.4" />
<line x1="830" y1="492.3" x2="889" y2="492.3" stroke="#9c6d40" stroke-width="1.9" />
<line x1="830" y1="502.90000000000003" x2="889" y2="502.90000000000003" stroke="#9c6d40" stroke-width="1.9" />
<path d="M850 496.6 L831.8 503.00000000000006 Q829.4 505.70000000000005 832.6 505.8 L850 502.70000000000005 Z" fill="#ffffff" stroke="#ab8d69" stroke-width="1.3"/>
<path d="M869 496.6 L887.2 503.00000000000006 Q889.6 505.70000000000005 886.4 505.8 L869 502.70000000000005 Z" fill="#ffffff" stroke="#ab8d69" stroke-width="1.3"/>
<line x1="840" y1="494.3" x2="878" y2="494.3" stroke="#fa1414" stroke-width="2.1" stroke-dasharray="2.2 0.5"/>
<line x1="755" y1="523.7" x2="866.5" y2="523.7" stroke="#fa1414" stroke-width="2.3" stroke-dasharray="2.2 0.5"/>
<line x1="700.2" y1="587.8" x2="700.2" y2="710.5" stroke="#c0e5e9" stroke-width="3.2" />
<line x1="923.3" y1="587.8" x2="923.3" y2="710.5" stroke="#c0e5e9" stroke-width="3.2" />
<line x1="706.2" y1="710.5" x2="819" y2="710.5" stroke="#c0e5e9" stroke-width="3.0" stroke-dasharray="2.8 2.9"/>
<line x1="819" y1="710.5" x2="923.3" y2="710.5" stroke="#c0e5e9" stroke-width="3.2" />
<line x1="705.2" y1="710.5" x2="794" y2="775" stroke="#c0e5e9" stroke-width="3.8" />
<rect x="695.0" y="599.75" width="10.4" height="5.5" fill="none" stroke="#a98662" stroke-width="1.5" rx="1.4"/>
<line x1="700.2" y1="599.75" x2="700.2" y2="605.25" stroke="#a98662" stroke-width="2.0" />
<rect x="918.0999999999999" y="599.75" width="10.4" height="5.5" fill="none" stroke="#a98662" stroke-width="1.5" rx="1.4"/>
<line x1="923.3" y1="599.75" x2="923.3" y2="605.25" stroke="#a98662" stroke-width="2.0" />
<rect x="695.0" y="613.5" width="10.4" height="7" fill="none" stroke="#a98662" stroke-width="1.5" rx="1.4"/>
<line x1="700.2" y1="613.5" x2="700.2" y2="620.5" stroke="#a98662" stroke-width="2.0" />
<rect x="918.0999999999999" y="613.5" width="10.4" height="7" fill="none" stroke="#a98662" stroke-width="1.5" rx="1.4"/>
<line x1="923.3" y1="613.5" x2="923.3" y2="620.5" stroke="#a98662" stroke-width="2.0" />
<rect x="695.0" y="635.25" width="10.4" height="5.5" fill="none" stroke="#a98662" stroke-width="1.5" rx="1.4"/>
<line x1="700.2" y1="635.25" x2="700.2" y2="640.75" stroke="#a98662" stroke-width="2.0" />
<rect x="918.0999999999999" y="635.25" width="10.4" height="5.5" fill="none" stroke="#a98662" stroke-width="1.5" rx="1.4"/>
<line x1="923.3" y1="635.25" x2="923.3" y2="640.75" stroke="#a98662" stroke-width="2.0" />
<rect x="695.0" y="648.5" width="10.4" height="7" fill="none" stroke="#a98662" stroke-width="1.5" rx="1.4"/>
<line x1="700.2" y1="648.5" x2="700.2" y2="655.5" stroke="#a98662" stroke-width="2.0" />
<rect x="918.0999999999999" y="648.5" width="10.4" height="7" fill="none" stroke="#a98662" stroke-width="1.5" rx="1.4"/>
<line x1="923.3" y1="648.5" x2="923.3" y2="655.5" stroke="#a98662" stroke-width="2.0" />
<rect x="695.0" y="670.25" width="10.4" height="5.5" fill="none" stroke="#a98662" stroke-width="1.5" rx="1.4"/>
<line x1="700.2" y1="670.25" x2="700.2" y2="675.75" stroke="#a98662" stroke-width="2.0" />
<rect x="918.0999999999999" y="670.25" width="10.4" height="5.5" fill="none" stroke="#a98662" stroke-width="1.5" rx="1.4"/>
<line x1="923.3" y1="670.25" x2="923.3" y2="675.75" stroke="#a98662" stroke-width="2.0" />
<rect x="695.0" y="683.3" width="10.4" height="7" fill="none" stroke="#a98662" stroke-width="1.5" rx="1.4"/>
<line x1="700.2" y1="683.3" x2="700.2" y2="690.3" stroke="#a98662" stroke-width="2.0" />
<rect x="918.0999999999999" y="683.3" width="10.4" height="7" fill="none" stroke="#a98662" stroke-width="1.5" rx="1.4"/>
<line x1="923.3" y1="683.3" x2="923.3" y2="690.3" stroke="#a98662" stroke-width="2.0" />
<rect x="824.0" y="705.3" width="8.0" height="10.4" fill="none" stroke="#a98662" stroke-width="1.5" rx="1.4"/>
<line x1="824.0" y1="710.5" x2="832.0" y2="710.5" stroke="#a98662" stroke-width="2.0" />
<rect x="839.25" y="705.3" width="5.5" height="10.4" fill="none" stroke="#a98662" stroke-width="1.5" rx="1.4"/>
<line x1="839.25" y1="710.5" x2="844.75" y2="710.5" stroke="#a98662" stroke-width="2.0" />
<rect x="859.7" y="705.3" width="8.0" height="10.4" fill="none" stroke="#a98662" stroke-width="1.5" rx="1.4"/>
<line x1="859.7" y1="710.5" x2="867.7" y2="710.5" stroke="#a98662" stroke-width="2.0" />
<rect x="875.25" y="705.3" width="5.5" height="10.4" fill="none" stroke="#a98662" stroke-width="1.5" rx="1.4"/>
<line x1="875.25" y1="710.5" x2="880.75" y2="710.5" stroke="#a98662" stroke-width="2.0" />
<rect x="895.6" y="705.3" width="8.0" height="10.4" fill="none" stroke="#a98662" stroke-width="1.5" rx="1.4"/>
<line x1="895.6" y1="710.5" x2="903.6" y2="710.5" stroke="#a98662" stroke-width="2.0" />
<g transform="translate(724.6 724.6) rotate(36.0)"><rect x="-3.75" y="-5.2" width="7.5" height="10.4" rx="1.4" fill="none" stroke="#a98662" stroke-width="1.5"/><line x1="-3.75" y1="0" x2="3.75" y2="0" stroke="#a98662" stroke-width="2.0"/></g>
<g transform="translate(736.4 733.1) rotate(36.0)"><rect x="-2.75" y="-5.2" width="5.5" height="10.4" rx="1.4" fill="none" stroke="#a98662" stroke-width="1.5"/><line x1="-2.75" y1="0" x2="2.75" y2="0" stroke="#a98662" stroke-width="2.0"/></g>
<g transform="translate(753.1 745.3) rotate(36.0)"><rect x="-3.75" y="-5.2" width="7.5" height="10.4" rx="1.4" fill="none" stroke="#a98662" stroke-width="1.5"/><line x1="-3.75" y1="0" x2="3.75" y2="0" stroke="#a98662" stroke-width="2.0"/></g>
<g transform="translate(763.9 753.1) rotate(36.0)"><rect x="-2.75" y="-5.2" width="5.5" height="10.4" rx="1.4" fill="none" stroke="#a98662" stroke-width="1.5"/><line x1="-2.75" y1="0" x2="2.75" y2="0" stroke="#a98662" stroke-width="2.0"/></g>
<g transform="translate(792.0 773.5) rotate(36.0)"><rect x="-2.75" y="-5.2" width="5.5" height="10.4" rx="1.4" fill="none" stroke="#a98662" stroke-width="1.5"/><line x1="-2.75" y1="0" x2="2.75" y2="0" stroke="#a98662" stroke-width="2.0"/></g>
<g transform="translate(781.1 765.6) rotate(36.0)" fill="none" stroke="#a98662" stroke-width="1.4"><rect x="-3.4" y="-13.2" width="6.8" height="8.4" rx="2.2"/><rect x="-3.4" y="4.8" width="6.8" height="8.4" rx="2.2"/><rect x="-3.6" y="-5.2" width="7.2" height="10.4" rx="3.2"/><line x1="-3.4" y1="-9" x2="3.4" y2="-9"/><line x1="-3.4" y1="9" x2="3.4" y2="9"/><line x1="-3.6" y1="0" x2="3.6" y2="0" stroke-width="2.2"/></g>
<rect x="695.6" y="705.9" width="9.2" height="9.2" fill="#ffffff" stroke="#a98662" stroke-width="1.6" rx="1.2"/>
<rect x="918.6999999999999" y="705.9" width="9.2" height="9.2" fill="#ffffff" stroke="#a98662" stroke-width="1.6" rx="1.2"/>
<path d="M1163.6 481.3 H1398.4 V575.9 H1386.8 V492.3 H1174.8 V575.9 H1163.6 Z" fill="#ebe7d5" stroke="#c4a683" stroke-width="1.7" stroke-linejoin="round"/>
<rect x="1174.8" y="492.3" width="212.0" height="83.59999999999997" fill="#ffffff" stroke="none" stroke-width="1.6" />
<line x1="1174.8" y1="492.3" x2="1386.8" y2="492.3" stroke="#9c6d40" stroke-width="2.1" />
<line x1="1174.8" y1="503.4" x2="1386.8" y2="503.4" stroke="#9c6d40" stroke-width="2.1" />
<line x1="1174.8" y1="514.5" x2="1386.8" y2="514.5" stroke="#9c6d40" stroke-width="2.1" />
<line x1="1174.8" y1="525.4" x2="1386.8" y2="525.4" stroke="#9c6d40" stroke-width="2.1" />
<line x1="1174.8" y1="536.6" x2="1386.8" y2="536.6" stroke="#9c6d40" stroke-width="2.1" />
<line x1="1174.8" y1="547.7" x2="1386.8" y2="547.7" stroke="#9c6d40" stroke-width="2.1" />
<line x1="1174.8" y1="559.0" x2="1386.8" y2="559.0" stroke="#9c6d40" stroke-width="2.1" />
<line x1="1174.8" y1="570.2" x2="1386.8" y2="570.2" stroke="#9c6d40" stroke-width="2.1" />
<line x1="1174.8" y1="574.9" x2="1386.8" y2="574.9" stroke="#b89574" stroke-width="1.6" />
<line x1="1175.6" y1="492.3" x2="1175.6" y2="575.4" stroke="#9c6d40" stroke-width="1.6" />
<line x1="1386.0" y1="492.3" x2="1386.0" y2="575.4" stroke="#9c6d40" stroke-width="1.6" />
<rect x="1203.6" y="492.3" width="60.100000000000136" height="10.600000000000023" fill="#ffffff" stroke="none" stroke-width="1.6" />
<line x1="1203.6" y1="492.3" x2="1203.6" y2="502.90000000000003" stroke="#9c6d40" stroke-width="1.5" />
<line x1="1263.7" y1="492.3" x2="1263.7" y2="502.90000000000003" stroke="#9c6d40" stroke-width="1.5" />
<line x1="1223.6" y1="492.3" x2="1223.6" y2="501.90000000000003" stroke="#9c6d40" stroke-width="1.4" />
<line x1="1243.7" y1="492.3" x2="1243.7" y2="501.90000000000003" stroke="#9c6d40" stroke-width="1.4" />
<line x1="1203.6" y1="492.3" x2="1263.7" y2="492.3" stroke="#9c6d40" stroke-width="1.9" />
<line x1="1203.6" y1="502.90000000000003" x2="1263.7" y2="502.90000000000003" stroke="#9c6d40" stroke-width="1.9" />
<path d="M1223.6 496.6 L1205.3999999999999 503.00000000000006 Q1203.0 505.70000000000005 1206.1999999999998 505.8 L1223.6 502.70000000000005 Z" fill="#ffffff" stroke="#ab8d69" stroke-width="1.3"/>
<path d="M1243.7 496.6 L1261.9 503.00000000000006 Q1264.3 505.70000000000005 1261.1000000000001 505.8 L1243.7 502.70000000000005 Z" fill="#ffffff" stroke="#ab8d69" stroke-width="1.3"/>
<line x1="1213.6" y1="494.3" x2="1252.7" y2="494.3" stroke="#fa1414" stroke-width="2.1" stroke-dasharray="2.2 0.5"/>
<rect x="1299" y="492.3" width="60" height="10.600000000000023" fill="#ffffff" stroke="none" stroke-width="1.6" />
<line x1="1299" y1="492.3" x2="1299" y2="502.90000000000003" stroke="#9c6d40" stroke-width="1.5" />
<line x1="1359" y1="492.3" x2="1359" y2="502.90000000000003" stroke="#9c6d40" stroke-width="1.5" />
<line x1="1319" y1="492.3" x2="1319" y2="501.90000000000003" stroke="#9c6d40" stroke-width="1.4" />
<line x1="1339" y1="492.3" x2="1339" y2="501.90000000000003" stroke="#9c6d40" stroke-width="1.4" />
<line x1="1299" y1="492.3" x2="1359" y2="492.3" stroke="#9c6d40" stroke-width="1.9" />
<line x1="1299" y1="502.90000000000003" x2="1359" y2="502.90000000000003" stroke="#9c6d40" stroke-width="1.9" />
<path d="M1319 496.6 L1300.8 503.00000000000006 Q1298.4 505.70000000000005 1301.6 505.8 L1319 502.70000000000005 Z" fill="#ffffff" stroke="#ab8d69" stroke-width="1.3"/>
<path d="M1339 496.6 L1357.2 503.00000000000006 Q1359.6 505.70000000000005 1356.4 505.8 L1339 502.70000000000005 Z" fill="#ffffff" stroke="#ab8d69" stroke-width="1.3"/>
<line x1="1309" y1="494.3" x2="1348" y2="494.3" stroke="#fa1414" stroke-width="2.1" stroke-dasharray="2.2 0.5"/>
<line x1="1223" y1="523.7" x2="1335.6" y2="523.7" stroke="#fa1414" stroke-width="2.3" stroke-dasharray="2.2 0.5"/>
<line x1="1169.6" y1="575.9" x2="1169.6" y2="633" stroke="#c0e5e9" stroke-width="3.2" />
<line x1="1392.4" y1="575.9" x2="1392.4" y2="633" stroke="#c0e5e9" stroke-width="3.2" />
<line x1="1175.6" y1="633" x2="1278" y2="633" stroke="#c0e5e9" stroke-width="3.0" stroke-dasharray="2.8 2.9"/>
<line x1="1278" y1="633" x2="1392.4" y2="633" stroke="#c0e5e9" stroke-width="3.2" />
<line x1="1174.6" y1="633" x2="1265.5" y2="699" stroke="#c0e5e9" stroke-width="3.8" />
<rect x="1164.3999999999999" y="591.5" width="10.4" height="7" fill="none" stroke="#a98662" stroke-width="1.5" rx="1.4"/>
<line x1="1169.6" y1="591.5" x2="1169.6" y2="598.5" stroke="#a98662" stroke-width="2.0" />
<rect x="1387.2" y="591.5" width="10.4" height="7" fill="none" stroke="#a98662" stroke-width="1.5" rx="1.4"/>
<line x1="1392.4" y1="591.5" x2="1392.4" y2="598.5" stroke="#a98662" stroke-width="2.0" />
<rect x="1164.3999999999999" y="606.55" width="10.4" height="5.5" fill="none" stroke="#a98662" stroke-width="1.5" rx="1.4"/>
<line x1="1169.6" y1="606.55" x2="1169.6" y2="612.05" stroke="#a98662" stroke-width="2.0" />
<rect x="1387.2" y="606.55" width="10.4" height="5.5" fill="none" stroke="#a98662" stroke-width="1.5" rx="1.4"/>
<line x1="1392.4" y1="606.55" x2="1392.4" y2="612.05" stroke="#a98662" stroke-width="2.0" />
<rect x="1293.7" y="627.8" width="8.0" height="10.4" fill="none" stroke="#a98662" stroke-width="1.5" rx="1.4"/>
<line x1="1293.7" y1="633" x2="1301.7" y2="633" stroke="#a98662" stroke-width="2.0" />
<rect x="1309.25" y="627.8" width="5.5" height="10.4" fill="none" stroke="#a98662" stroke-width="1.5" rx="1.4"/>
<line x1="1309.25" y1="633" x2="1314.75" y2="633" stroke="#a98662" stroke-width="2.0" />
<rect x="1329.8" y="627.8" width="8.0" height="10.4" fill="none" stroke="#a98662" stroke-width="1.5" rx="1.4"/>
<line x1="1329.8" y1="633" x2="1337.8" y2="633" stroke="#a98662" stroke-width="2.0" />
<rect x="1344.65" y="627.8" width="5.5" height="10.4" fill="none" stroke="#a98662" stroke-width="1.5" rx="1.4"/>
<line x1="1344.65" y1="633" x2="1350.15" y2="633" stroke="#a98662" stroke-width="2.0" />
<rect x="1365.0" y="627.8" width="8.0" height="10.4" fill="none" stroke="#a98662" stroke-width="1.5" rx="1.4"/>
<line x1="1365.0" y1="633" x2="1373.0" y2="633" stroke="#a98662" stroke-width="2.0" />
<g transform="translate(1194.5 647.5) rotate(36.0)"><rect x="-3.75" y="-5.2" width="7.5" height="10.4" rx="1.4" fill="none" stroke="#a98662" stroke-width="1.5"/><line x1="-3.75" y1="0" x2="3.75" y2="0" stroke="#a98662" stroke-width="2.0"/></g>
<g transform="translate(1206.5 656.2) rotate(36.0)"><rect x="-2.75" y="-5.2" width="5.5" height="10.4" rx="1.4" fill="none" stroke="#a98662" stroke-width="1.5"/><line x1="-2.75" y1="0" x2="2.75" y2="0" stroke="#a98662" stroke-width="2.0"/></g>
<g transform="translate(1223.6 668.6) rotate(36.0)"><rect x="-3.75" y="-5.2" width="7.5" height="10.4" rx="1.4" fill="none" stroke="#a98662" stroke-width="1.5"/><line x1="-3.75" y1="0" x2="3.75" y2="0" stroke="#a98662" stroke-width="2.0"/></g>
<g transform="translate(1234.7 676.6) rotate(36.0)"><rect x="-2.75" y="-5.2" width="5.5" height="10.4" rx="1.4" fill="none" stroke="#a98662" stroke-width="1.5"/><line x1="-2.75" y1="0" x2="2.75" y2="0" stroke="#a98662" stroke-width="2.0"/></g>
<g transform="translate(1263.4 697.5) rotate(36.0)"><rect x="-2.75" y="-5.2" width="5.5" height="10.4" rx="1.4" fill="none" stroke="#a98662" stroke-width="1.5"/><line x1="-2.75" y1="0" x2="2.75" y2="0" stroke="#a98662" stroke-width="2.0"/></g>
<g transform="translate(1252.3 689.4) rotate(36.0)" fill="none" stroke="#a98662" stroke-width="1.4"><rect x="-3.4" y="-13.2" width="6.8" height="8.4" rx="2.2"/><rect x="-3.4" y="4.8" width="6.8" height="8.4" rx="2.2"/><rect x="-3.6" y="-5.2" width="7.2" height="10.4" rx="3.2"/><line x1="-3.4" y1="-9" x2="3.4" y2="-9"/><line x1="-3.4" y1="9" x2="3.4" y2="9"/><line x1="-3.6" y1="0" x2="3.6" y2="0" stroke-width="2.2"/></g>
<rect x="1165.0" y="628.4" width="9.2" height="9.2" fill="#ffffff" stroke="#a98662" stroke-width="1.6" rx="1.2"/>
<rect x="1387.8000000000002" y="628.4" width="9.2" height="9.2" fill="#ffffff" stroke="#a98662" stroke-width="1.6" rx="1.2"/>
<path d="M1614.4 481.3 H1801.8 V575.9 H1790.3 V492.3 H1626 V575.9 H1614.4 Z" fill="#ebe7d5" stroke="#c4a683" stroke-width="1.7" stroke-linejoin="round"/>
<rect x="1626" y="492.3" width="164.29999999999995" height="83.59999999999997" fill="#ffffff" stroke="none" stroke-width="1.6" />
<line x1="1626" y1="492.3" x2="1790.3" y2="492.3" stroke="#9c6d40" stroke-width="2.1" />
<line x1="1626" y1="503.4" x2="1790.3" y2="503.4" stroke="#9c6d40" stroke-width="2.1" />
<line x1="1626" y1="514.5" x2="1790.3" y2="514.5" stroke="#9c6d40" stroke-width="2.1" />
<line x1="1626" y1="525.4" x2="1790.3" y2="525.4" stroke="#9c6d40" stroke-width="2.1" />
<line x1="1626" y1="536.6" x2="1790.3" y2="536.6" stroke="#9c6d40" stroke-width="2.1" />
<line x1="1626" y1="547.7" x2="1790.3" y2="547.7" stroke="#9c6d40" stroke-width="2.1" />
<line x1="1626" y1="559.0" x2="1790.3" y2="559.0" stroke="#9c6d40" stroke-width="2.1" />
<line x1="1626" y1="570.2" x2="1790.3" y2="570.2" stroke="#9c6d40" stroke-width="2.1" />
<line x1="1626" y1="574.9" x2="1790.3" y2="574.9" stroke="#b89574" stroke-width="1.6" />
<line x1="1626.8" y1="492.3" x2="1626.8" y2="575.4" stroke="#9c6d40" stroke-width="1.6" />
<line x1="1789.5" y1="492.3" x2="1789.5" y2="575.4" stroke="#9c6d40" stroke-width="1.6" />
<rect x="1678.4" y="492.3" width="60.19999999999982" height="10.600000000000023" fill="#ffffff" stroke="none" stroke-width="1.6" />
<line x1="1678.4" y1="492.3" x2="1678.4" y2="502.90000000000003" stroke="#9c6d40" stroke-width="1.5" />
<line x1="1738.6" y1="492.3" x2="1738.6" y2="502.90000000000003" stroke="#9c6d40" stroke-width="1.5" />
<line x1="1698.4" y1="492.3" x2="1698.4" y2="501.90000000000003" stroke="#9c6d40" stroke-width="1.4" />
<line x1="1718.6" y1="492.3" x2="1718.6" y2="501.90000000000003" stroke="#9c6d40" stroke-width="1.4" />
<line x1="1678.4" y1="492.3" x2="1738.6" y2="492.3" stroke="#9c6d40" stroke-width="1.9" />
<line x1="1678.4" y1="502.90000000000003" x2="1738.6" y2="502.90000000000003" stroke="#9c6d40" stroke-width="1.9" />
<path d="M1698.4 496.6 L1680.2 503.00000000000006 Q1677.8000000000002 505.70000000000005 1681.0 505.8 L1698.4 502.70000000000005 Z" fill="#ffffff" stroke="#ab8d69" stroke-width="1.3"/>
<path d="M1718.6 496.6 L1736.8 503.00000000000006 Q1739.1999999999998 505.70000000000005 1736.0 505.8 L1718.6 502.70000000000005 Z" fill="#ffffff" stroke="#ab8d69" stroke-width="1.3"/>
<line x1="1688.4" y1="494.3" x2="1727.6" y2="494.3" stroke="#fa1414" stroke-width="2.1" stroke-dasharray="2.2 0.5"/>
<line x1="1651" y1="523.7" x2="1762" y2="523.7" stroke="#fa1414" stroke-width="2.3" stroke-dasharray="2.2 0.5"/>
<line x1="1620" y1="575.9" x2="1620" y2="633" stroke="#c0e5e9" stroke-width="3.2" />
<line x1="1796" y1="575.9" x2="1796" y2="633" stroke="#c0e5e9" stroke-width="3.2" />
<line x1="1626" y1="633" x2="1728" y2="633" stroke="#c0e5e9" stroke-width="3.0" stroke-dasharray="2.8 2.9"/>
<line x1="1728" y1="633" x2="1796" y2="633" stroke="#c0e5e9" stroke-width="3.2" />
<line x1="1625" y1="633" x2="1715.5" y2="699" stroke="#c0e5e9" stroke-width="3.8" />
<rect x="1614.8" y="591.5" width="10.4" height="7" fill="none" stroke="#a98662" stroke-width="1.5" rx="1.4"/>
<line x1="1620" y1="591.5" x2="1620" y2="598.5" stroke="#a98662" stroke-width="2.0" />
<rect x="1790.8" y="591.5" width="10.4" height="7" fill="none" stroke="#a98662" stroke-width="1.5" rx="1.4"/>
<line x1="1796" y1="591.5" x2="1796" y2="598.5" stroke="#a98662" stroke-width="2.0" />
<rect x="1614.8" y="606.55" width="10.4" height="5.5" fill="none" stroke="#a98662" stroke-width="1.5" rx="1.4"/>
<line x1="1620" y1="606.55" x2="1620" y2="612.05" stroke="#a98662" stroke-width="2.0" />
<rect x="1790.8" y="606.55" width="10.4" height="5.5" fill="none" stroke="#a98662" stroke-width="1.5" rx="1.4"/>
<line x1="1796" y1="606.55" x2="1796" y2="612.05" stroke="#a98662" stroke-width="2.0" />
<rect x="1743.7" y="627.8" width="8.0" height="10.4" fill="none" stroke="#a98662" stroke-width="1.5" rx="1.4"/>
<line x1="1743.7" y1="633" x2="1751.7" y2="633" stroke="#a98662" stroke-width="2.0" />
<rect x="1759.25" y="627.8" width="5.5" height="10.4" fill="none" stroke="#a98662" stroke-width="1.5" rx="1.4"/>
<line x1="1759.25" y1="633" x2="1764.75" y2="633" stroke="#a98662" stroke-width="2.0" />
<rect x="1779.0" y="627.8" width="8.0" height="10.4" fill="none" stroke="#a98662" stroke-width="1.5" rx="1.4"/>
<line x1="1779.0" y1="633" x2="1787.0" y2="633" stroke="#a98662" stroke-width="2.0" />
<g transform="translate(1644.8 647.5) rotate(36.1)"><rect x="-3.75" y="-5.2" width="7.5" height="10.4" rx="1.4" fill="none" stroke="#a98662" stroke-width="1.5"/><line x1="-3.75" y1="0" x2="3.75" y2="0" stroke="#a98662" stroke-width="2.0"/></g>
<g transform="translate(1656.8 656.2) rotate(36.1)"><rect x="-2.75" y="-5.2" width="5.5" height="10.4" rx="1.4" fill="none" stroke="#a98662" stroke-width="1.5"/><line x1="-2.75" y1="0" x2="2.75" y2="0" stroke="#a98662" stroke-width="2.0"/></g>
<g transform="translate(1673.8 668.6) rotate(36.1)"><rect x="-3.75" y="-5.2" width="7.5" height="10.4" rx="1.4" fill="none" stroke="#a98662" stroke-width="1.5"/><line x1="-3.75" y1="0" x2="3.75" y2="0" stroke="#a98662" stroke-width="2.0"/></g>
<g transform="translate(1684.8 676.6) rotate(36.1)"><rect x="-2.75" y="-5.2" width="5.5" height="10.4" rx="1.4" fill="none" stroke="#a98662" stroke-width="1.5"/><line x1="-2.75" y1="0" x2="2.75" y2="0" stroke="#a98662" stroke-width="2.0"/></g>
<g transform="translate(1713.4 697.5) rotate(36.1)"><rect x="-2.75" y="-5.2" width="5.5" height="10.4" rx="1.4" fill="none" stroke="#a98662" stroke-width="1.5"/><line x1="-2.75" y1="0" x2="2.75" y2="0" stroke="#a98662" stroke-width="2.0"/></g>
<g transform="translate(1702.4 689.4) rotate(36.1)" fill="none" stroke="#a98662" stroke-width="1.4"><rect x="-3.4" y="-13.2" width="6.8" height="8.4" rx="2.2"/><rect x="-3.4" y="4.8" width="6.8" height="8.4" rx="2.2"/><rect x="-3.6" y="-5.2" width="7.2" height="10.4" rx="3.2"/><line x1="-3.4" y1="-9" x2="3.4" y2="-9"/><line x1="-3.4" y1="9" x2="3.4" y2="9"/><line x1="-3.6" y1="0" x2="3.6" y2="0" stroke-width="2.2"/></g>
<rect x="1615.4" y="628.4" width="9.2" height="9.2" fill="#ffffff" stroke="#a98662" stroke-width="1.6" rx="1.2"/>
<rect x="1791.4" y="628.4" width="9.2" height="9.2" fill="#ffffff" stroke="#a98662" stroke-width="1.6" rx="1.2"/>
<g transform="translate(300.1 457.9)" fill="none" stroke="#9f7347" stroke-width="1.95" stroke-linecap="butt" stroke-linejoin="round"><g transform="translate(0 0)"><path d="M4.0 -15.4 V-1.0" stroke-width="2.3"/><path d="M0.7 -14.2 L4.0 -15.4" stroke-width="2.3"/><path d="M0.9 -1.0 H7.0" stroke-width="2.1"/></g><g transform="translate(10.8 0)"><ellipse cx="5.25" cy="-12.0" rx="3.45" ry="3.35"/><ellipse cx="5.25" cy="-4.75" rx="4.2" ry="3.75"/></g><g transform="translate(23.6 0)"><ellipse cx="5.55" cy="-8.2" rx="4.5" ry="7.15"/></g></g>
<g transform="translate(795.0 457.9)" fill="none" stroke="#9f7347" stroke-width="1.95" stroke-linecap="butt" stroke-linejoin="round"><g transform="translate(0 0)"><path d="M4.0 -15.4 V-1.0" stroke-width="2.3"/><path d="M0.7 -14.2 L4.0 -15.4" stroke-width="2.3"/><path d="M0.9 -1.0 H7.0" stroke-width="2.1"/></g><g transform="translate(11.1 0)"><path d="M8.9 -15.4 H2.3 L1.9 -8.7 C3.0 -9.6 4.3 -10.0 5.6 -10.0 C7.9 -10.0 9.1 -8.2 9.1 -5.6 C9.1 -2.6 7.3 -1.0 5.0 -1.0 C3.2 -1.0 1.9 -1.7 1.0 -3.0"/></g><g transform="translate(23.3 0)"><ellipse cx="5.55" cy="-8.2" rx="4.5" ry="7.15"/></g></g>
<g transform="translate(1264.2 457.9)" fill="none" stroke="#9f7347" stroke-width="1.95" stroke-linecap="butt" stroke-linejoin="round"><g transform="translate(0 0)"><path d="M4.0 -15.4 V-1.0" stroke-width="2.3"/><path d="M0.7 -14.2 L4.0 -15.4" stroke-width="2.3"/><path d="M0.9 -1.0 H7.0" stroke-width="2.1"/></g><g transform="translate(11.1 0)"><path d="M8.9 -15.4 H2.3 L1.9 -8.7 C3.0 -9.6 4.3 -10.0 5.6 -10.0 C7.9 -10.0 9.1 -8.2 9.1 -5.6 C9.1 -2.6 7.3 -1.0 5.0 -1.0 C3.2 -1.0 1.9 -1.7 1.0 -3.0"/></g><g transform="translate(23.4 0)"><ellipse cx="5.55" cy="-8.2" rx="4.5" ry="7.15"/></g></g>
<g transform="translate(1692.4 457.9)" fill="none" stroke="#9f7347" stroke-width="1.95" stroke-linecap="butt" stroke-linejoin="round"><g transform="translate(0 0)"><path d="M4.0 -15.4 V-1.0" stroke-width="2.3"/><path d="M0.7 -14.2 L4.0 -15.4" stroke-width="2.3"/><path d="M0.9 -1.0 H7.0" stroke-width="2.1"/></g><g transform="translate(10.9 0)"><path d="M1.3 -12.3 C1.7 -14.6 3.3 -15.4 5.2 -15.4 C7.6 -15.4 8.9 -13.9 8.9 -11.8 C8.9 -9.9 7.6 -8.5 5.6 -7.0 C3.6 -5.4 1.6 -3.6 1.1 -1.0 H9.3 V-3.4"/></g><g transform="translate(23.3 0)"><ellipse cx="5.55" cy="-8.2" rx="4.5" ry="7.15"/></g></g>
<g transform="translate(498.7 224.1) rotate(-90)" fill="none" stroke="#9f7347" stroke-width="1.95" stroke-linecap="butt" stroke-linejoin="round"><g transform="translate(0 0)"><path d="M1.3 -12.3 C1.7 -14.6 3.3 -15.4 5.2 -15.4 C7.6 -15.4 8.9 -13.9 8.9 -11.8 C8.9 -9.9 7.6 -8.5 5.6 -7.0 C3.6 -5.4 1.6 -3.6 1.1 -1.0 H9.3 V-3.4"/></g><g transform="translate(14.4 0)"><path d="M4.0 -15.4 V-1.0" stroke-width="2.3"/><path d="M0.7 -14.2 L4.0 -15.4" stroke-width="2.3"/><path d="M0.9 -1.0 H7.0" stroke-width="2.1"/></g><g transform="translate(24.9 0)"><ellipse cx="5.55" cy="-8.2" rx="4.5" ry="7.15"/></g></g>
<g transform="translate(967.9 224.6) rotate(-90)" fill="none" stroke="#9f7347" stroke-width="1.95" stroke-linecap="butt" stroke-linejoin="round"><g transform="translate(0 0)"><path d="M1.3 -12.3 C1.7 -14.6 3.3 -15.4 5.2 -15.4 C7.6 -15.4 8.9 -13.9 8.9 -11.8 C8.9 -9.9 7.6 -8.5 5.6 -7.0 C3.6 -5.4 1.6 -3.6 1.1 -1.0 H9.3 V-3.4"/></g><g transform="translate(14.4 0)"><path d="M4.0 -15.4 V-1.0" stroke-width="2.3"/><path d="M0.7 -14.2 L4.0 -15.4" stroke-width="2.3"/><path d="M0.9 -1.0 H7.0" stroke-width="2.1"/></g><g transform="translate(24.9 0)"><ellipse cx="5.55" cy="-8.2" rx="4.5" ry="7.15"/></g></g>
<g transform="translate(1437.1 224.6) rotate(-90)" fill="none" stroke="#9f7347" stroke-width="1.95" stroke-linecap="butt" stroke-linejoin="round"><g transform="translate(0 0)"><path d="M1.3 -12.3 C1.7 -14.6 3.3 -15.4 5.2 -15.4 C7.6 -15.4 8.9 -13.9 8.9 -11.8 C8.9 -9.9 7.6 -8.5 5.6 -7.0 C3.6 -5.4 1.6 -3.6 1.1 -1.0 H9.3 V-3.4"/></g><g transform="translate(14.4 0)"><path d="M4.0 -15.4 V-1.0" stroke-width="2.3"/><path d="M0.7 -14.2 L4.0 -15.4" stroke-width="2.3"/><path d="M0.9 -1.0 H7.0" stroke-width="2.1"/></g><g transform="translate(24.9 0)"><ellipse cx="5.55" cy="-8.2" rx="4.5" ry="7.15"/></g></g>
<g transform="translate(1840.6 224.6) rotate(-90)" fill="none" stroke="#9f7347" stroke-width="1.95" stroke-linecap="butt" stroke-linejoin="round"><g transform="translate(0 0)"><path d="M1.3 -12.3 C1.7 -14.6 3.3 -15.4 5.2 -15.4 C7.6 -15.4 8.9 -13.9 8.9 -11.8 C8.9 -9.9 7.6 -8.5 5.6 -7.0 C3.6 -5.4 1.6 -3.6 1.1 -1.0 H9.3 V-3.4"/></g><g transform="translate(14.4 0)"><path d="M4.0 -15.4 V-1.0" stroke-width="2.3"/><path d="M0.7 -14.2 L4.0 -15.4" stroke-width="2.3"/><path d="M0.9 -1.0 H7.0" stroke-width="2.1"/></g><g transform="translate(24.9 0)"><ellipse cx="5.55" cy="-8.2" rx="4.5" ry="7.15"/></g></g>
<g transform="translate(499.3 589.9) rotate(-90)" fill="none" stroke="#9f7347" stroke-width="1.95" stroke-linecap="butt" stroke-linejoin="round"><g transform="translate(0 0)"><path d="M4.0 -15.4 V-1.0" stroke-width="2.3"/><path d="M0.7 -14.2 L4.0 -15.4" stroke-width="2.3"/><path d="M0.9 -1.0 H7.0" stroke-width="2.1"/></g><g transform="translate(10.2 0)"><path d="M1.3 -12.3 C1.7 -14.6 3.3 -15.4 5.2 -15.4 C7.6 -15.4 8.9 -13.9 8.9 -11.8 C8.9 -9.9 7.6 -8.5 5.6 -7.0 C3.6 -5.4 1.6 -3.6 1.1 -1.0 H9.3 V-3.4"/></g><g transform="translate(23.0 0)"><ellipse cx="5.55" cy="-8.2" rx="4.5" ry="7.15"/></g></g>
<g transform="translate(968.1 613.1) rotate(-90)" fill="none" stroke="#9f7347" stroke-width="1.95" stroke-linecap="butt" stroke-linejoin="round"><g transform="translate(0 0)"><path d="M4.0 -15.4 V-1.0" stroke-width="2.3"/><path d="M0.7 -14.2 L4.0 -15.4" stroke-width="2.3"/><path d="M0.9 -1.0 H7.0" stroke-width="2.1"/></g><g transform="translate(9.9 0)"><path d="M8.9 -15.4 H2.3 L1.9 -8.7 C3.0 -9.6 4.3 -10.0 5.6 -10.0 C7.9 -10.0 9.1 -8.2 9.1 -5.6 C9.1 -2.6 7.3 -1.0 5.0 -1.0 C3.2 -1.0 1.9 -1.7 1.0 -3.0"/></g><g transform="translate(22.4 0)"><ellipse cx="5.55" cy="-8.2" rx="4.5" ry="7.15"/></g></g>
<g transform="translate(1437.8 574.6) rotate(-90)" fill="none" stroke="#9f7347" stroke-width="1.95" stroke-linecap="butt" stroke-linejoin="round"><g transform="translate(0 0)"><path d="M4.0 -15.4 V-1.0" stroke-width="2.3"/><path d="M0.7 -14.2 L4.0 -15.4" stroke-width="2.3"/><path d="M0.9 -1.0 H7.0" stroke-width="2.1"/></g><g transform="translate(9.6 0)"><ellipse cx="5.55" cy="-8.2" rx="4.5" ry="7.15"/></g><g transform="translate(22.7 0)"><ellipse cx="5.55" cy="-8.2" rx="4.5" ry="7.15"/></g></g>
<g transform="translate(1841.6 574.6) rotate(-90)" fill="none" stroke="#9f7347" stroke-width="1.95" stroke-linecap="butt" stroke-linejoin="round"><g transform="translate(0 0)"><path d="M4.0 -15.4 V-1.0" stroke-width="2.3"/><path d="M0.7 -14.2 L4.0 -15.4" stroke-width="2.3"/><path d="M0.9 -1.0 H7.0" stroke-width="2.1"/></g><g transform="translate(9.6 0)"><ellipse cx="5.55" cy="-8.2" rx="4.5" ry="7.15"/></g><g transform="translate(22.7 0)"><ellipse cx="5.55" cy="-8.2" rx="4.5" ry="7.15"/></g></g>
<polyline points="124.3,875.6 170,875.6 185.4,859.1 366,859.1 380.6,875.6 714.7,875.6 731.9,859.1 911.6,859.1 927.2,875.6 1170.7,875.6 1185.5,859.1 1367.6,859.1 1382.2,875.6 1623.6,875.6 1639.3,859.1 1784.9,859.1 1800.4,875.6 1870,875.6" fill="none" stroke="#97784c" stroke-width="3.3" stroke-linejoin="miter"/>
<path d="M239.20 857.7 C238.70 866 240.50 877 242.30 883.5 C243.30 888.6 251.70 889 251.90 883.5 C251.50 877 248.50 867 248.40 857.7 Z" fill="#fff" stroke="none"/><path d="M239.20 857.7 C238.70 866 240.50 877 242.30 883.5 C243.30 888.6 251.70 889 251.90 883.5 C251.50 877 248.50 867 248.40 857.7" fill="none" stroke="#97784c" stroke-width="1.65"/><path d="M268.40 857.7 C268.90 866 267.10 877 265.30 883.5 C264.50 888.6 256.10 889 256.10 883.5 C256.50 877 260.10 867 260.10 857.7 Z" fill="#fff" stroke="none"/><path d="M268.40 857.7 C268.90 866 267.10 877 265.30 883.5 C264.50 888.6 256.10 889 256.10 883.5 C256.50 877 260.10 867 260.10 857.7" fill="none" stroke="#97784c" stroke-width="1.65"/><path d="M245.40 832.5 L262.50 832.5 C268.30 833 271.30 839 271.30 845.6 C271.30 851.8 266.60 856.8 262.10 858 L257.70 859.4 L250.50 859.4 L245.60 858 C241.10 856.8 236.90 851.8 236.90 845.6 C236.90 839 239.60 833 245.40 832.5 Z" fill="#fff" stroke="#97784c" stroke-width="1.65"/><circle cx="254.10" cy="822.1" r="8.7" fill="#fff" stroke="#97784c" stroke-width="1.65"/><path d="M244.40 840.0 C243.80 846.5 244.90 851.5 250.50 855.8 V859.4" fill="none" stroke="#97784c" stroke-width="1.5"/><path d="M264.20 840.6 C264.70 846.5 263.70 851.5 257.50 855.8 V859.4" fill="none" stroke="#97784c" stroke-width="1.5"/><path d="M244.30 840.0 C243.90 843.5 244.10 846.5 244.90 849" fill="none" stroke="#97784c" stroke-width="2.6" stroke-linecap="round"/><path d="M264.30 840.6 C264.70 843.5 264.50 846.5 263.70 849" fill="none" stroke="#97784c" stroke-width="2.6" stroke-linecap="round"/>
<path d="M278.60 857.7 C278.10 866 279.90 877 281.70 883.5 C282.70 888.6 291.10 889 291.30 883.5 C290.90 877 287.90 867 287.80 857.7 Z" fill="#fff" stroke="none"/><path d="M278.60 857.7 C278.10 866 279.90 877 281.70 883.5 C282.70 888.6 291.10 889 291.30 883.5 C290.90 877 287.90 867 287.80 857.7" fill="none" stroke="#97784c" stroke-width="1.65"/><path d="M307.80 857.7 C308.30 866 306.50 877 304.70 883.5 C303.90 888.6 295.50 889 295.50 883.5 C295.90 877 299.50 867 299.50 857.7 Z" fill="#fff" stroke="none"/><path d="M307.80 857.7 C308.30 866 306.50 877 304.70 883.5 C303.90 888.6 295.50 889 295.50 883.5 C295.90 877 299.50 867 299.50 857.7" fill="none" stroke="#97784c" stroke-width="1.65"/><path d="M284.80 832.5 L301.90 832.5 C307.70 833 310.70 839 310.70 845.6 C310.70 851.8 306.00 856.8 301.50 858 L297.10 859.4 L289.90 859.4 L285.00 858 C280.50 856.8 276.30 851.8 276.30 845.6 C276.30 839 279.00 833 284.80 832.5 Z" fill="#fff" stroke="#97784c" stroke-width="1.65"/><circle cx="293.50" cy="822.1" r="8.7" fill="#fff" stroke="#97784c" stroke-width="1.65"/><path d="M283.80 840.0 C283.20 846.5 284.30 851.5 289.90 855.8 V859.4" fill="none" stroke="#97784c" stroke-width="1.5"/><path d="M303.60 840.6 C304.10 846.5 303.10 851.5 296.90 855.8 V859.4" fill="none" stroke="#97784c" stroke-width="1.5"/><path d="M283.70 840.0 C283.30 843.5 283.50 846.5 284.30 849" fill="none" stroke="#97784c" stroke-width="2.6" stroke-linecap="round"/><path d="M303.70 840.6 C304.10 843.5 303.90 846.5 303.10 849" fill="none" stroke="#97784c" stroke-width="2.6" stroke-linecap="round"/>
<path d="M787.10 857.7 C786.60 866 788.40 877 790.20 883.5 C791.20 888.6 799.60 889 799.80 883.5 C799.40 877 796.40 867 796.30 857.7 Z" fill="#fff" stroke="none"/><path d="M787.10 857.7 C786.60 866 788.40 877 790.20 883.5 C791.20 888.6 799.60 889 799.80 883.5 C799.40 877 796.40 867 796.30 857.7" fill="none" stroke="#97784c" stroke-width="1.65"/><path d="M816.30 857.7 C816.80 866 815.00 877 813.20 883.5 C812.40 888.6 804.00 889 804.00 883.5 C804.40 877 808.00 867 808.00 857.7 Z" fill="#fff" stroke="none"/><path d="M816.30 857.7 C816.80 866 815.00 877 813.20 883.5 C812.40 888.6 804.00 889 804.00 883.5 C804.40 877 808.00 867 808.00 857.7" fill="none" stroke="#97784c" stroke-width="1.65"/><path d="M793.30 832.5 L810.40 832.5 C816.20 833 819.20 839 819.20 845.6 C819.20 851.8 814.50 856.8 810.00 858 L805.60 859.4 L798.40 859.4 L793.50 858 C789.00 856.8 784.80 851.8 784.80 845.6 C784.80 839 787.50 833 793.30 832.5 Z" fill="#fff" stroke="#97784c" stroke-width="1.65"/><circle cx="802.00" cy="822.1" r="8.7" fill="#fff" stroke="#97784c" stroke-width="1.65"/><path d="M792.30 840.0 C791.70 846.5 792.80 851.5 798.40 855.8 V859.4" fill="none" stroke="#97784c" stroke-width="1.5"/><path d="M812.10 840.6 C812.60 846.5 811.60 851.5 805.40 855.8 V859.4" fill="none" stroke="#97784c" stroke-width="1.5"/><path d="M792.20 840.0 C791.80 843.5 792.00 846.5 792.80 849" fill="none" stroke="#97784c" stroke-width="2.6" stroke-linecap="round"/><path d="M812.20 840.6 C812.60 843.5 812.40 846.5 811.60 849" fill="none" stroke="#97784c" stroke-width="2.6" stroke-linecap="round"/>
<path d="M826.40 857.7 C825.90 866 827.70 877 829.50 883.5 C830.50 888.6 838.90 889 839.10 883.5 C838.70 877 835.70 867 835.60 857.7 Z" fill="#fff" stroke="none"/><path d="M826.40 857.7 C825.90 866 827.70 877 829.50 883.5 C830.50 888.6 838.90 889 839.10 883.5 C838.70 877 835.70 867 835.60 857.7" fill="none" stroke="#97784c" stroke-width="1.65"/><path d="M855.60 857.7 C856.10 866 854.30 877 852.50 883.5 C851.70 888.6 843.30 889 843.30 883.5 C843.70 877 847.30 867 847.30 857.7 Z" fill="#fff" stroke="none"/><path d="M855.60 857.7 C856.10 866 854.30 877 852.50 883.5 C851.70 888.6 843.30 889 843.30 883.5 C843.70 877 847.30 867 847.30 857.7" fill="none" stroke="#97784c" stroke-width="1.65"/><path d="M832.60 832.5 L849.70 832.5 C855.50 833 858.50 839 858.50 845.6 C858.50 851.8 853.80 856.8 849.30 858 L844.90 859.4 L837.70 859.4 L832.80 858 C828.30 856.8 824.10 851.8 824.10 845.6 C824.10 839 826.80 833 832.60 832.5 Z" fill="#fff" stroke="#97784c" stroke-width="1.65"/><circle cx="841.30" cy="822.1" r="8.7" fill="#fff" stroke="#97784c" stroke-width="1.65"/><path d="M831.60 840.0 C831.00 846.5 832.10 851.5 837.70 855.8 V859.4" fill="none" stroke="#97784c" stroke-width="1.5"/><path d="M851.40 840.6 C851.90 846.5 850.90 851.5 844.70 855.8 V859.4" fill="none" stroke="#97784c" stroke-width="1.5"/><path d="M831.50 840.0 C831.10 843.5 831.30 846.5 832.10 849" fill="none" stroke="#97784c" stroke-width="2.6" stroke-linecap="round"/><path d="M851.50 840.6 C851.90 843.5 851.70 846.5 850.90 849" fill="none" stroke="#97784c" stroke-width="2.6" stroke-linecap="round"/>
<path d="M1241.10 857.7 C1240.60 866 1242.40 877 1244.20 883.5 C1245.20 888.6 1253.60 889 1253.80 883.5 C1253.40 877 1250.40 867 1250.30 857.7 Z" fill="#fff" stroke="none"/><path d="M1241.10 857.7 C1240.60 866 1242.40 877 1244.20 883.5 C1245.20 888.6 1253.60 889 1253.80 883.5 C1253.40 877 1250.40 867 1250.30 857.7" fill="none" stroke="#97784c" stroke-width="1.65"/><path d="M1270.30 857.7 C1270.80 866 1269.00 877 1267.20 883.5 C1266.40 888.6 1258.00 889 1258.00 883.5 C1258.40 877 1262.00 867 1262.00 857.7 Z" fill="#fff" stroke="none"/><path d="M1270.30 857.7 C1270.80 866 1269.00 877 1267.20 883.5 C1266.40 888.6 1258.00 889 1258.00 883.5 C1258.40 877 1262.00 867 1262.00 857.7" fill="none" stroke="#97784c" stroke-width="1.65"/><path d="M1247.30 832.5 L1264.40 832.5 C1270.20 833 1273.20 839 1273.20 845.6 C1273.20 851.8 1268.50 856.8 1264.00 858 L1259.60 859.4 L1252.40 859.4 L1247.50 858 C1243.00 856.8 1238.80 851.8 1238.80 845.6 C1238.80 839 1241.50 833 1247.30 832.5 Z" fill="#fff" stroke="#97784c" stroke-width="1.65"/><circle cx="1256.00" cy="822.1" r="8.7" fill="#fff" stroke="#97784c" stroke-width="1.65"/><path d="M1246.30 840.0 C1245.70 846.5 1246.80 851.5 1252.40 855.8 V859.4" fill="none" stroke="#97784c" stroke-width="1.5"/><path d="M1266.10 840.6 C1266.60 846.5 1265.60 851.5 1259.40 855.8 V859.4" fill="none" stroke="#97784c" stroke-width="1.5"/><path d="M1246.20 840.0 C1245.80 843.5 1246.00 846.5 1246.80 849" fill="none" stroke="#97784c" stroke-width="2.6" stroke-linecap="round"/><path d="M1266.20 840.6 C1266.60 843.5 1266.40 846.5 1265.60 849" fill="none" stroke="#97784c" stroke-width="2.6" stroke-linecap="round"/>
<path d="M1280.50 857.7 C1280.00 866 1281.80 877 1283.60 883.5 C1284.60 888.6 1293.00 889 1293.20 883.5 C1292.80 877 1289.80 867 1289.70 857.7 Z" fill="#fff" stroke="none"/><path d="M1280.50 857.7 C1280.00 866 1281.80 877 1283.60 883.5 C1284.60 888.6 1293.00 889 1293.20 883.5 C1292.80 877 1289.80 867 1289.70 857.7" fill="none" stroke="#97784c" stroke-width="1.65"/><path d="M1309.70 857.7 C1310.20 866 1308.40 877 1306.60 883.5 C1305.80 888.6 1297.40 889 1297.40 883.5 C1297.80 877 1301.40 867 1301.40 857.7 Z" fill="#fff" stroke="none"/><path d="M1309.70 857.7 C1310.20 866 1308.40 877 1306.60 883.5 C1305.80 888.6 1297.40 889 1297.40 883.5 C1297.80 877 1301.40 867 1301.40 857.7" fill="none" stroke="#97784c" stroke-width="1.65"/><path d="M1286.70 832.5 L1303.80 832.5 C1309.60 833 1312.60 839 1312.60 845.6 C1312.60 851.8 1307.90 856.8 1303.40 858 L1299.00 859.4 L1291.80 859.4 L1286.90 858 C1282.40 856.8 1278.20 851.8 1278.20 845.6 C1278.20 839 1280.90 833 1286.70 832.5 Z" fill="#fff" stroke="#97784c" stroke-width="1.65"/><circle cx="1295.40" cy="822.1" r="8.7" fill="#fff" stroke="#97784c" stroke-width="1.65"/><path d="M1285.70 840.0 C1285.10 846.5 1286.20 851.5 1291.80 855.8 V859.4" fill="none" stroke="#97784c" stroke-width="1.5"/><path d="M1305.50 840.6 C1306.00 846.5 1305.00 851.5 1298.80 855.8 V859.4" fill="none" stroke="#97784c" stroke-width="1.5"/><path d="M1285.60 840.0 C1285.20 843.5 1285.40 846.5 1286.20 849" fill="none" stroke="#97784c" stroke-width="2.6" stroke-linecap="round"/><path d="M1305.60 840.6 C1306.00 843.5 1305.80 846.5 1305.00 849" fill="none" stroke="#97784c" stroke-width="2.6" stroke-linecap="round"/>
<path d="M1698.40 857.7 C1697.90 866 1699.70 877 1701.50 883.5 C1702.50 888.6 1710.90 889 1711.10 883.5 C1710.70 877 1707.70 867 1707.60 857.7 Z" fill="#fff" stroke="none"/><path d="M1698.40 857.7 C1697.90 866 1699.70 877 1701.50 883.5 C1702.50 888.6 1710.90 889 1711.10 883.5 C1710.70 877 1707.70 867 1707.60 857.7" fill="none" stroke="#97784c" stroke-width="1.65"/><path d="M1727.60 857.7 C1728.10 866 1726.30 877 1724.50 883.5 C1723.70 888.6 1715.30 889 1715.30 883.5 C1715.70 877 1719.30 867 1719.30 857.7 Z" fill="#fff" stroke="none"/><path d="M1727.60 857.7 C1728.10 866 1726.30 877 1724.50 883.5 C1723.70 888.6 1715.30 889 1715.30 883.5 C1715.70 877 1719.30 867 1719.30 857.7" fill="none" stroke="#97784c" stroke-width="1.65"/><path d="M1704.60 832.5 L1721.70 832.5 C1727.50 833 1730.50 839 1730.50 845.6 C1730.50 851.8 1725.80 856.8 1721.30 858 L1716.90 859.4 L1709.70 859.4 L1704.80 858 C1700.30 856.8 1696.10 851.8 1696.10 845.6 C1696.10 839 1698.80 833 1704.60 832.5 Z" fill="#fff" stroke="#97784c" stroke-width="1.65"/><circle cx="1713.30" cy="822.1" r="8.7" fill="#fff" stroke="#97784c" stroke-width="1.65"/><path d="M1703.60 840.0 C1703.00 846.5 1704.10 851.5 1709.70 855.8 V859.4" fill="none" stroke="#97784c" stroke-width="1.5"/><path d="M1723.40 840.6 C1723.90 846.5 1722.90 851.5 1716.70 855.8 V859.4" fill="none" stroke="#97784c" stroke-width="1.5"/><path d="M1703.50 840.0 C1703.10 843.5 1703.30 846.5 1704.10 849" fill="none" stroke="#97784c" stroke-width="2.6" stroke-linecap="round"/><path d="M1723.50 840.6 C1723.90 843.5 1723.70 846.5 1722.90 849" fill="none" stroke="#97784c" stroke-width="2.6" stroke-linecap="round"/></g></svg>
</body></html>
